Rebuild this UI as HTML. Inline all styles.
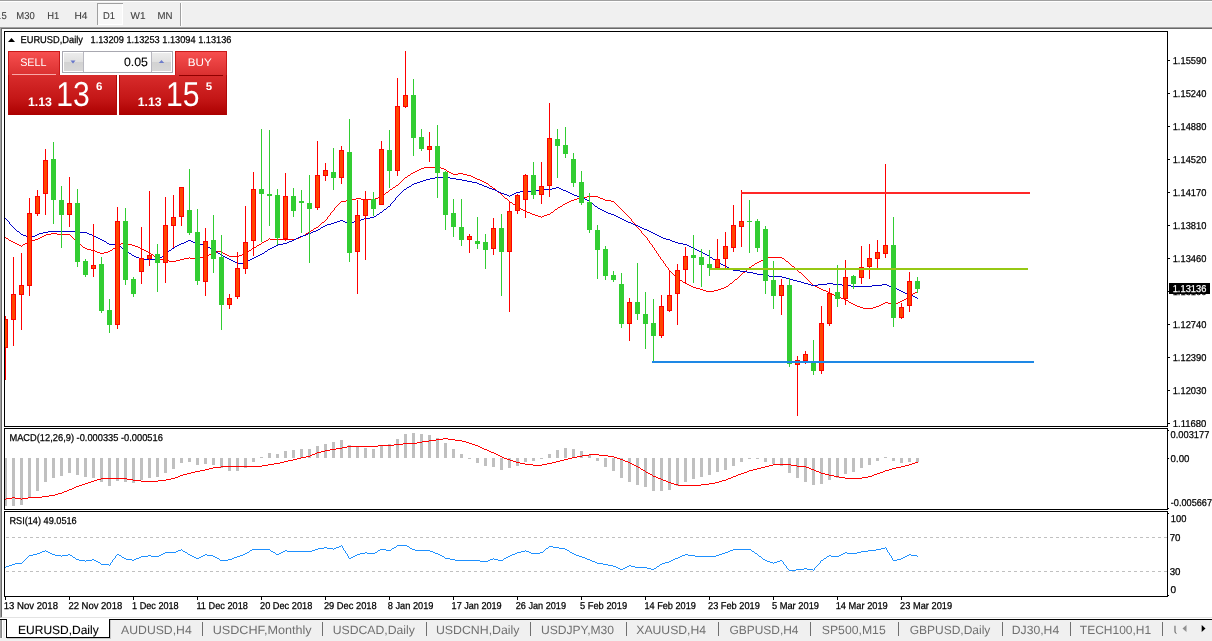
<!DOCTYPE html>
<html><head><meta charset="utf-8"><title>EURUSD,Daily</title>
<style>html,body{margin:0;padding:0;background:#f0f0f0;overflow:hidden}svg{display:block}text{font-family:"Liberation Sans",sans-serif;white-space:pre}</style>
</head><body>
<svg text-rendering="geometricPrecision" width="1212" height="641" viewBox="0 0 1212 641">
<rect x="0" y="0" width="1212" height="641" fill="#f0f0f0" />
<rect x="0" y="0" width="1212" height="1" fill="#a0a0a0" />
<rect x="0" y="1" width="1212" height="1" fill="#ffffff" />
<rect x="97" y="3" width="26" height="22" fill="#f8f8f8" />
<rect x="97" y="3" width="26" height="1" fill="#a0a0a0" />
<rect x="97" y="3" width="1" height="22" fill="#a0a0a0" />
<rect x="98" y="24" width="25" height="1" fill="#ffffff" />
<rect x="122" y="4" width="1" height="21" fill="#ffffff" />
<rect x="180" y="3" width="1" height="23" fill="#a0a0a0" />
<rect x="181" y="3" width="1" height="23" fill="#ffffff" />
<text x="1.5" y="19" font-size="9.97" fill="#404040" textLength="5.3" lengthAdjust="spacingAndGlyphs" stroke="#404040" stroke-width="0.1" >5</text>
<text x="16.3" y="19" font-size="9.97" fill="#404040" textLength="18.4" lengthAdjust="spacingAndGlyphs" stroke="#404040" stroke-width="0.1" >M30</text>
<text x="47.3" y="19" font-size="9.97" fill="#404040" textLength="12.0" lengthAdjust="spacingAndGlyphs" stroke="#404040" stroke-width="0.1" >H1</text>
<text x="74.5" y="19" font-size="9.97" fill="#404040" textLength="13.0" lengthAdjust="spacingAndGlyphs" stroke="#404040" stroke-width="0.1" >H4</text>
<text x="103.1" y="19" font-size="9.97" fill="#404040" textLength="12.0" lengthAdjust="spacingAndGlyphs" stroke="#404040" stroke-width="0.1" >D1</text>
<text x="130.5" y="19" font-size="9.97" fill="#404040" textLength="15.0" lengthAdjust="spacingAndGlyphs" stroke="#404040" stroke-width="0.1" >W1</text>
<text x="157.5" y="19" font-size="9.97" fill="#404040" textLength="15.0" lengthAdjust="spacingAndGlyphs" stroke="#404040" stroke-width="0.1" >MN</text>
<text x="-4.3" y="19" font-size="9.97" fill="#404040" textLength="5.3" lengthAdjust="spacingAndGlyphs" stroke="#404040" stroke-width="0.1" >1</text>
<rect x="0" y="27" width="1212" height="590" fill="#ffffff" />
<rect x="0" y="27" width="1212" height="1" fill="#a0a0a0" />
<rect x="0" y="28" width="1212" height="1" fill="#696969" />
<rect x="0" y="27" width="1" height="590" fill="#a0a0a0" />
<rect x="1" y="28" width="1" height="589" fill="#696969" />
<rect x="0" y="617" width="1212" height="1" fill="#e3e3e3" />
<rect x="4" y="31" width="1164" height="1" fill="#000" />
<rect x="4" y="426" width="1164" height="1" fill="#000" />
<rect x="4" y="31" width="1" height="396" fill="#000" />
<rect x="1167" y="31" width="1" height="396" fill="#000" />
<rect x="4" y="428" width="1164" height="1" fill="#000" />
<rect x="4" y="509" width="1164" height="1" fill="#000" />
<rect x="4" y="428" width="1" height="82" fill="#000" />
<rect x="1167" y="428" width="1" height="82" fill="#000" />
<rect x="4" y="511" width="1164" height="1" fill="#000" />
<rect x="4" y="596" width="1164" height="1" fill="#000" />
<rect x="4" y="511" width="1" height="86" fill="#000" />
<rect x="1167" y="511" width="1" height="86" fill="#000" />
<path d="M5 237h1v1h-1zM6 238h1v1h-1zM7 238h1v1h-1zM8 239h1v1h-1zM9 240h1v1h-1zM10 240h1v1h-1zM11 241h1v1h-1zM12 241h1v1h-1zM13 242h1v1h-1zM14 242h1v1h-1zM15 243h1v1h-1zM16 243h1v1h-1zM17 244h1v1h-1zM18 244h1v1h-1zM19 245h1v1h-1zM20 245h1v1h-1zM21 246h1v1h-1zM22 245h1v1h-1zM23 244h1v1h-1zM24 244h1v1h-1zM25 243h1v1h-1zM26 243h1v1h-1zM27 242h1v1h-1zM28 242h1v1h-1zM29 241h1v1h-1zM30 241h1v1h-1zM31 240h1v1h-1zM32 240h1v1h-1zM33 240h1v1h-1zM34 240h1v1h-1zM35 239h1v1h-1zM36 239h1v1h-1zM37 239h1v1h-1zM38 238h1v1h-1zM39 238h1v1h-1zM40 237h1v1h-1zM41 237h1v1h-1zM42 236h1v1h-1zM43 236h1v1h-1zM44 235h1v1h-1zM45 235h1v1h-1zM46 234h1v1h-1zM47 234h1v1h-1zM48 234h1v1h-1zM49 234h1v1h-1zM50 234h1v1h-1zM51 233h1v1h-1zM52 233h1v1h-1zM53 233h1v1h-1zM54 233h1v1h-1zM55 233h1v1h-1zM56 233h1v1h-1zM57 234h1v1h-1zM58 234h1v1h-1zM59 234h1v1h-1zM60 234h1v1h-1zM61 234h1v1h-1zM62 234h1v1h-1zM63 234h1v1h-1zM64 234h1v1h-1zM65 234h1v1h-1zM66 234h1v1h-1zM67 234h1v1h-1zM68 234h1v1h-1zM69 234h1v1h-1zM70 235h1v1h-1zM71 236h1v1h-1zM72 237h1v1h-1zM73 238h1v1h-1zM74 239h1v1h-1zM75 240h1v1h-1zM76 241h1v1h-1zM77 242h1v1h-1zM78 243h1v1h-1zM79 244h1v1h-1zM80 244h1v1h-1zM81 245h1v1h-1zM82 246h1v1h-1zM83 247h1v1h-1zM84 247h1v1h-1zM85 248h1v1h-1zM86 248h1v1h-1zM87 249h1v1h-1zM88 249h1v1h-1zM89 249h1v1h-1zM90 249h1v1h-1zM91 250h1v1h-1zM92 250h1v1h-1zM93 250h1v1h-1zM94 250h1v1h-1zM95 251h1v1h-1zM96 251h1v1h-1zM97 252h1v1h-1zM98 252h1v1h-1zM99 252h1v1h-1zM100 253h1v1h-1zM101 253h1v1h-1zM102 253h1v1h-1zM103 253h1v1h-1zM104 252h1v1h-1zM105 252h1v1h-1zM106 252h1v1h-1zM107 252h1v1h-1zM108 251h1v1h-1zM109 251h1v1h-1zM110 250h1v1h-1zM111 250h1v1h-1zM112 249h1v1h-1zM113 248h1v1h-1zM114 248h1v1h-1zM115 247h1v1h-1zM116 246h1v1h-1zM117 246h1v1h-1zM118 245h1v1h-1zM119 244h1v1h-1zM120 244h1v1h-1zM121 243h1v1h-1zM122 243h1v1h-1zM123 243h1v1h-1zM124 243h1v1h-1zM125 244h1v1h-1zM126 244h1v1h-1zM127 244h1v1h-1zM128 244h1v1h-1zM129 244h1v1h-1zM130 244h1v1h-1zM131 244h1v1h-1zM132 245h1v1h-1zM133 245h1v1h-1zM134 245h1v1h-1zM135 246h1v1h-1zM136 246h1v1h-1zM137 246h1v1h-1zM138 247h1v1h-1zM139 247h1v1h-1zM140 248h1v1h-1zM141 248h1v1h-1zM142 249h1v1h-1zM143 249h1v1h-1zM144 250h1v1h-1zM145 250h1v1h-1zM146 251h1v1h-1zM147 251h1v1h-1zM148 252h1v1h-1zM149 252h1v1h-1zM150 253h1v1h-1zM151 254h1v1h-1zM152 254h1v1h-1zM153 255h1v1h-1zM154 256h1v1h-1zM155 257h1v1h-1zM156 257h1v1h-1zM157 258h1v1h-1zM158 258h1v1h-1zM159 259h1v1h-1zM160 259h1v1h-1zM161 259h1v1h-1zM162 259h1v1h-1zM163 260h1v1h-1zM164 260h1v1h-1zM165 260h1v1h-1zM166 260h1v1h-1zM167 260h1v1h-1zM168 260h1v1h-1zM169 261h1v1h-1zM170 261h1v1h-1zM171 261h1v1h-1zM172 261h1v1h-1zM173 261h1v1h-1zM174 261h1v1h-1zM175 261h1v1h-1zM176 260h1v1h-1zM177 260h1v1h-1zM178 260h1v1h-1zM179 260h1v1h-1zM180 259h1v1h-1zM181 259h1v1h-1zM182 259h1v1h-1zM183 259h1v1h-1zM184 258h1v1h-1zM185 258h1v1h-1zM186 258h1v1h-1zM187 258h1v1h-1zM188 258h1v1h-1zM189 257h1v1h-1zM190 258h1v1h-1zM191 258h1v1h-1zM192 258h1v1h-1zM193 258h1v1h-1zM194 258h1v1h-1zM195 258h1v1h-1zM196 258h1v1h-1zM197 258h1v1h-1zM198 258h1v1h-1zM199 258h1v1h-1zM200 257h1v1h-1zM201 257h1v1h-1zM202 257h1v1h-1zM203 257h1v1h-1zM204 256h1v1h-1zM205 256h1v1h-1zM206 256h1v1h-1zM207 255h1v1h-1zM208 255h1v1h-1zM209 254h1v1h-1zM210 254h1v1h-1zM211 254h1v1h-1zM212 253h1v1h-1zM213 253h1v1h-1zM214 253h1v1h-1zM215 252h1v1h-1zM216 252h1v1h-1zM217 251h1v1h-1zM218 251h1v1h-1zM219 251h1v1h-1zM220 251h1v1h-1zM221 252h1v1h-1zM222 252h1v1h-1zM223 253h1v1h-1zM224 253h1v1h-1zM225 254h1v1h-1zM226 254h1v1h-1zM227 255h1v1h-1zM228 255h1v1h-1zM229 256h1v1h-1zM230 256h1v1h-1zM231 256h1v1h-1zM232 256h1v1h-1zM233 256h1v1h-1zM234 256h1v1h-1zM235 256h1v1h-1zM236 256h1v1h-1zM237 256h1v1h-1zM238 256h1v1h-1zM239 255h1v1h-1zM240 255h1v1h-1zM241 255h1v1h-1zM242 254h1v1h-1zM243 254h1v1h-1zM244 253h1v1h-1zM245 253h1v1h-1zM246 252h1v1h-1zM247 251h1v1h-1zM248 251h1v1h-1zM249 250h1v1h-1zM250 250h1v1h-1zM251 249h1v1h-1zM252 248h1v1h-1zM253 248h1v1h-1zM254 247h1v1h-1zM255 247h1v1h-1zM256 246h1v1h-1zM257 245h1v1h-1zM258 245h1v1h-1zM259 244h1v1h-1zM260 244h1v1h-1zM261 243h1v1h-1zM262 242h1v1h-1zM263 242h1v1h-1zM264 241h1v1h-1zM265 241h1v1h-1zM266 240h1v1h-1zM267 240h1v1h-1zM268 239h1v1h-1zM269 238h1v1h-1zM270 239h1v1h-1zM271 239h1v1h-1zM272 239h1v1h-1zM273 239h1v1h-1zM274 239h1v1h-1zM275 239h1v1h-1zM276 239h1v1h-1zM277 239h1v1h-1zM278 239h1v1h-1zM279 239h1v1h-1zM280 239h1v1h-1zM281 239h1v1h-1zM282 239h1v1h-1zM283 239h1v1h-1zM284 239h1v1h-1zM285 239h1v1h-1zM286 239h1v1h-1zM287 239h1v1h-1zM288 239h1v1h-1zM289 239h1v1h-1zM290 239h1v1h-1zM291 239h1v1h-1zM292 239h1v1h-1zM293 239h1v1h-1zM294 239h1v1h-1zM295 239h1v1h-1zM296 238h1v1h-1zM297 238h1v1h-1zM298 238h1v1h-1zM299 237h1v1h-1zM300 237h1v1h-1zM301 236h1v1h-1zM302 236h1v1h-1zM303 235h1v1h-1zM304 235h1v1h-1zM305 234h1v1h-1zM306 233h1v1h-1zM307 233h1v1h-1zM308 232h1v1h-1zM309 232h1v1h-1zM310 231h1v1h-1zM311 230h1v1h-1zM312 230h1v1h-1zM313 229h1v1h-1zM314 228h1v1h-1zM315 228h1v1h-1zM316 227h1v1h-1zM317 227h1v1h-1zM318 226h1v1h-1zM319 225h1v1h-1zM320 224h1v1h-1zM321 223h1v1h-1zM322 222h1v1h-1zM323 222h1v1h-1zM324 221h1v1h-1zM325 220h1v1h-1zM326 219h1v1h-1zM327 217h1v2h-1zM328 216h1v1h-1zM329 215h1v1h-1zM330 213h1v2h-1zM331 212h1v1h-1zM332 211h1v1h-1zM333 210h1v1h-1zM334 208h1v2h-1zM335 207h1v1h-1zM336 206h1v1h-1zM337 205h1v1h-1zM338 204h1v1h-1zM339 203h1v1h-1zM340 202h1v1h-1zM341 201h1v1h-1zM342 201h1v1h-1zM343 201h1v1h-1zM344 201h1v1h-1zM345 201h1v1h-1zM346 200h1v1h-1zM347 200h1v1h-1zM348 200h1v1h-1zM349 200h1v1h-1zM350 200h1v1h-1zM351 200h1v1h-1zM352 199h1v1h-1zM353 199h1v1h-1zM354 199h1v1h-1zM355 199h1v1h-1zM356 198h1v1h-1zM357 198h1v1h-1zM358 198h1v1h-1zM359 198h1v1h-1zM360 198h1v1h-1zM361 199h1v1h-1zM362 199h1v1h-1zM363 199h1v1h-1zM364 199h1v1h-1zM365 199h1v1h-1zM366 199h1v1h-1zM367 199h1v1h-1zM368 199h1v1h-1zM369 199h1v1h-1zM370 199h1v1h-1zM371 199h1v1h-1zM372 199h1v1h-1zM373 199h1v1h-1zM374 199h1v1h-1zM375 198h1v1h-1zM376 198h1v1h-1zM377 198h1v1h-1zM378 197h1v1h-1zM379 197h1v1h-1zM380 196h1v1h-1zM381 196h1v1h-1zM382 195h1v1h-1zM383 195h1v1h-1zM384 194h1v1h-1zM385 193h1v1h-1zM386 192h1v1h-1zM387 192h1v1h-1zM388 191h1v1h-1zM389 190h1v1h-1zM390 189h1v1h-1zM391 189h1v1h-1zM392 188h1v1h-1zM393 187h1v1h-1zM394 187h1v1h-1zM395 186h1v1h-1zM396 185h1v1h-1zM397 185h1v1h-1zM398 184h1v1h-1zM399 183h1v1h-1zM400 182h1v1h-1zM401 181h1v1h-1zM402 180h1v1h-1zM403 179h1v1h-1zM404 178h1v1h-1zM405 177h1v1h-1zM406 177h1v1h-1zM407 176h1v1h-1zM408 175h1v1h-1zM409 175h1v1h-1zM410 174h1v1h-1zM411 173h1v1h-1zM412 173h1v1h-1zM413 172h1v1h-1zM414 172h1v1h-1zM415 171h1v1h-1zM416 171h1v1h-1zM417 170h1v1h-1zM418 170h1v1h-1zM419 169h1v1h-1zM420 169h1v1h-1zM421 168h1v1h-1zM422 168h1v1h-1zM423 168h1v1h-1zM424 167h1v1h-1zM425 167h1v1h-1zM426 167h1v1h-1zM427 167h1v1h-1zM428 167h1v1h-1zM429 167h1v1h-1zM430 167h1v1h-1zM431 167h1v1h-1zM432 167h1v1h-1zM433 167h1v1h-1zM434 167h1v1h-1zM435 167h1v1h-1zM436 167h1v1h-1zM437 167h1v1h-1zM438 167h1v1h-1zM439 167h1v1h-1zM440 167h1v1h-1zM441 168h1v1h-1zM442 168h1v1h-1zM443 168h1v1h-1zM444 169h1v1h-1zM445 169h1v1h-1zM446 170h1v1h-1zM447 171h1v1h-1zM448 171h1v1h-1zM449 172h1v1h-1zM450 172h1v1h-1zM451 173h1v1h-1zM452 173h1v1h-1zM453 174h1v1h-1zM454 174h1v1h-1zM455 174h1v1h-1zM456 174h1v1h-1zM457 174h1v1h-1zM458 173h1v1h-1zM459 173h1v1h-1zM460 173h1v1h-1zM461 173h1v1h-1zM462 173h1v1h-1zM463 174h1v1h-1zM464 174h1v1h-1zM465 174h1v1h-1zM466 174h1v1h-1zM467 175h1v1h-1zM468 175h1v1h-1zM469 175h1v1h-1zM470 175h1v1h-1zM471 176h1v1h-1zM472 176h1v1h-1zM473 177h1v1h-1zM474 177h1v1h-1zM475 178h1v1h-1zM476 178h1v1h-1zM477 179h1v1h-1zM478 179h1v1h-1zM479 179h1v1h-1zM480 180h1v1h-1zM481 180h1v1h-1zM482 181h1v1h-1zM483 181h1v1h-1zM484 182h1v1h-1zM485 182h1v1h-1zM486 183h1v1h-1zM487 183h1v1h-1zM488 184h1v1h-1zM489 185h1v1h-1zM490 186h1v1h-1zM491 186h1v1h-1zM492 187h1v1h-1zM493 188h1v1h-1zM494 188h1v1h-1zM495 189h1v1h-1zM496 190h1v1h-1zM497 191h1v1h-1zM498 192h1v1h-1zM499 192h1v1h-1zM500 193h1v1h-1zM501 194h1v1h-1zM502 195h1v1h-1zM503 196h1v1h-1zM504 197h1v1h-1zM505 198h1v1h-1zM506 198h1v1h-1zM507 199h1v1h-1zM508 200h1v1h-1zM509 201h1v1h-1zM510 202h1v1h-1zM511 202h1v1h-1zM512 203h1v1h-1zM513 204h1v1h-1zM514 204h1v1h-1zM515 205h1v1h-1zM516 206h1v1h-1zM517 207h1v1h-1zM518 207h1v1h-1zM519 208h1v1h-1zM520 208h1v1h-1zM521 209h1v1h-1zM522 209h1v1h-1zM523 210h1v1h-1zM524 210h1v1h-1zM525 211h1v1h-1zM526 211h1v1h-1zM527 212h1v1h-1zM528 212h1v1h-1zM529 212h1v1h-1zM530 213h1v1h-1zM531 213h1v1h-1zM532 214h1v1h-1zM533 214h1v1h-1zM534 214h1v1h-1zM535 215h1v1h-1zM536 215h1v1h-1zM537 215h1v1h-1zM538 216h1v1h-1zM539 216h1v1h-1zM540 216h1v1h-1zM541 217h1v1h-1zM542 216h1v1h-1zM543 216h1v1h-1zM544 215h1v1h-1zM545 215h1v1h-1zM546 215h1v1h-1zM547 214h1v1h-1zM548 214h1v1h-1zM549 214h1v1h-1zM550 213h1v1h-1zM551 212h1v1h-1zM552 212h1v1h-1zM553 211h1v1h-1zM554 210h1v1h-1zM555 209h1v1h-1zM556 209h1v1h-1zM557 208h1v1h-1zM558 207h1v1h-1zM559 207h1v1h-1zM560 206h1v1h-1zM561 206h1v1h-1zM562 205h1v1h-1zM563 204h1v1h-1zM564 204h1v1h-1zM565 203h1v1h-1zM566 203h1v1h-1zM567 202h1v1h-1zM568 202h1v1h-1zM569 201h1v1h-1zM570 201h1v1h-1zM571 200h1v1h-1zM572 200h1v1h-1zM573 200h1v1h-1zM574 199h1v1h-1zM575 199h1v1h-1zM576 199h1v1h-1zM577 198h1v1h-1zM578 198h1v1h-1zM579 198h1v1h-1zM580 197h1v1h-1zM581 197h1v1h-1zM582 197h1v1h-1zM583 197h1v1h-1zM584 197h1v1h-1zM585 197h1v1h-1zM586 197h1v1h-1zM587 196h1v1h-1zM588 196h1v1h-1zM589 196h1v1h-1zM590 196h1v1h-1zM591 196h1v1h-1zM592 196h1v1h-1zM593 196h1v1h-1zM594 196h1v1h-1zM595 196h1v1h-1zM596 196h1v1h-1zM597 196h1v1h-1zM598 197h1v1h-1zM599 197h1v1h-1zM600 198h1v1h-1zM601 198h1v1h-1zM602 198h1v1h-1zM603 199h1v1h-1zM604 199h1v1h-1zM605 200h1v1h-1zM606 200h1v1h-1zM607 200h1v1h-1zM608 200h1v1h-1zM609 200h1v1h-1zM610 200h1v1h-1zM611 201h1v1h-1zM612 201h1v1h-1zM613 201h1v1h-1zM614 202h1v1h-1zM615 203h1v1h-1zM616 204h1v1h-1zM617 205h1v1h-1zM618 206h1v1h-1zM619 207h1v1h-1zM620 208h1v1h-1zM621 209h1v1h-1zM622 210h1v1h-1zM623 211h1v1h-1zM624 212h1v1h-1zM625 213h1v1h-1zM626 214h1v1h-1zM627 215h1v1h-1zM628 216h1v1h-1zM629 217h1v1h-1zM630 218h1v1h-1zM631 219h1v2h-1zM632 221h1v1h-1zM633 222h1v1h-1zM634 223h1v1h-1zM635 224h1v2h-1zM636 226h1v1h-1zM637 227h1v1h-1zM638 228h1v1h-1zM639 229h1v1h-1zM640 230h1v1h-1zM641 231h1v2h-1zM642 233h1v1h-1zM643 234h1v1h-1zM644 235h1v1h-1zM645 236h1v1h-1zM646 237h1v1h-1zM647 238h1v2h-1zM648 240h1v1h-1zM649 241h1v2h-1zM650 243h1v1h-1zM651 244h1v1h-1zM652 245h1v2h-1zM653 247h1v1h-1zM654 248h1v2h-1zM655 250h1v1h-1zM656 251h1v2h-1zM657 253h1v1h-1zM658 254h1v2h-1zM659 256h1v1h-1zM660 257h1v2h-1zM661 259h1v1h-1zM662 260h1v1h-1zM663 261h1v2h-1zM664 263h1v1h-1zM665 264h1v2h-1zM666 266h1v1h-1zM667 267h1v1h-1zM668 268h1v2h-1zM669 270h1v1h-1zM670 271h1v1h-1zM671 272h1v1h-1zM672 273h1v1h-1zM673 274h1v1h-1zM674 275h1v1h-1zM675 276h1v1h-1zM676 277h1v1h-1zM677 278h1v1h-1zM678 278h1v1h-1zM679 279h1v1h-1zM680 280h1v1h-1zM681 280h1v1h-1zM682 281h1v1h-1zM683 282h1v1h-1zM684 282h1v1h-1zM685 283h1v1h-1zM686 283h1v1h-1zM687 284h1v1h-1zM688 284h1v1h-1zM689 285h1v1h-1zM690 285h1v1h-1zM691 286h1v1h-1zM692 286h1v1h-1zM693 287h1v1h-1zM694 287h1v1h-1zM695 287h1v1h-1zM696 288h1v1h-1zM697 288h1v1h-1zM698 288h1v1h-1zM699 288h1v1h-1zM700 289h1v1h-1zM701 289h1v1h-1zM702 289h1v1h-1zM703 290h1v1h-1zM704 290h1v1h-1zM705 290h1v1h-1zM706 291h1v1h-1zM707 291h1v1h-1zM708 291h1v1h-1zM709 291h1v1h-1zM710 291h1v1h-1zM711 291h1v1h-1zM712 291h1v1h-1zM713 291h1v1h-1zM714 290h1v1h-1zM715 290h1v1h-1zM716 290h1v1h-1zM717 290h1v1h-1zM718 289h1v1h-1zM719 289h1v1h-1zM720 289h1v1h-1zM721 288h1v1h-1zM722 288h1v1h-1zM723 288h1v1h-1zM724 287h1v1h-1zM725 287h1v1h-1zM726 286h1v1h-1zM727 286h1v1h-1zM728 285h1v1h-1zM729 284h1v1h-1zM730 283h1v1h-1zM731 283h1v1h-1zM732 282h1v1h-1zM733 281h1v1h-1zM734 280h1v1h-1zM735 279h1v1h-1zM736 279h1v1h-1zM737 278h1v1h-1zM738 277h1v1h-1zM739 276h1v1h-1zM740 275h1v1h-1zM741 274h1v1h-1zM742 273h1v1h-1zM743 272h1v1h-1zM744 272h1v1h-1zM745 271h1v1h-1zM746 270h1v1h-1zM747 269h1v1h-1zM748 268h1v1h-1zM749 267h1v1h-1zM750 267h1v1h-1zM751 266h1v1h-1zM752 265h1v1h-1zM753 265h1v1h-1zM754 264h1v1h-1zM755 263h1v1h-1zM756 263h1v1h-1zM757 262h1v1h-1zM758 262h1v1h-1zM759 261h1v1h-1zM760 261h1v1h-1zM761 260h1v1h-1zM762 260h1v1h-1zM763 259h1v1h-1zM764 259h1v1h-1zM765 259h1v1h-1zM766 258h1v1h-1zM767 258h1v1h-1zM768 257h1v1h-1zM769 257h1v1h-1zM770 257h1v1h-1zM771 257h1v1h-1zM772 257h1v1h-1zM773 257h1v1h-1zM774 257h1v1h-1zM775 257h1v1h-1zM776 257h1v1h-1zM777 257h1v1h-1zM778 257h1v1h-1zM779 257h1v1h-1zM780 257h1v1h-1zM781 257h1v1h-1zM782 258h1v1h-1zM783 258h1v1h-1zM784 259h1v1h-1zM785 260h1v1h-1zM786 261h1v1h-1zM787 261h1v1h-1zM788 262h1v1h-1zM789 263h1v1h-1zM790 264h1v1h-1zM791 265h1v1h-1zM792 266h1v1h-1zM793 266h1v1h-1zM794 267h1v1h-1zM795 268h1v1h-1zM796 269h1v1h-1zM797 270h1v1h-1zM798 271h1v1h-1zM799 272h1v1h-1zM800 272h1v1h-1zM801 273h1v1h-1zM802 274h1v1h-1zM803 275h1v1h-1zM804 276h1v1h-1zM805 277h1v1h-1zM806 278h1v1h-1zM807 279h1v1h-1zM808 280h1v1h-1zM809 281h1v1h-1zM810 282h1v1h-1zM811 283h1v1h-1zM812 284h1v1h-1zM813 285h1v1h-1zM814 285h1v1h-1zM815 286h1v1h-1zM816 286h1v1h-1zM817 287h1v1h-1zM818 287h1v1h-1zM819 288h1v1h-1zM820 288h1v1h-1zM821 289h1v1h-1zM822 289h1v1h-1zM823 290h1v1h-1zM824 290h1v1h-1zM825 290h1v1h-1zM826 291h1v1h-1zM827 291h1v1h-1zM828 292h1v1h-1zM829 292h1v1h-1zM830 293h1v1h-1zM831 293h1v1h-1zM832 294h1v1h-1zM833 294h1v1h-1zM834 295h1v1h-1zM835 295h1v1h-1zM836 296h1v1h-1zM837 296h1v1h-1zM838 296h1v1h-1zM839 297h1v1h-1zM840 297h1v1h-1zM841 298h1v1h-1zM842 298h1v1h-1zM843 298h1v1h-1zM844 299h1v1h-1zM845 299h1v1h-1zM846 300h1v1h-1zM847 300h1v1h-1zM848 301h1v1h-1zM849 302h1v1h-1zM850 302h1v1h-1zM851 303h1v1h-1zM852 303h1v1h-1zM853 304h1v1h-1zM854 304h1v1h-1zM855 305h1v1h-1zM856 305h1v1h-1zM857 306h1v1h-1zM858 306h1v1h-1zM859 306h1v1h-1zM860 307h1v1h-1zM861 307h1v1h-1zM862 307h1v1h-1zM863 308h1v1h-1zM864 308h1v1h-1zM865 308h1v1h-1zM866 308h1v1h-1zM867 308h1v1h-1zM868 308h1v1h-1zM869 308h1v1h-1zM870 308h1v1h-1zM871 308h1v1h-1zM872 308h1v1h-1zM873 307h1v1h-1zM874 307h1v1h-1zM875 307h1v1h-1zM876 306h1v1h-1zM877 306h1v1h-1zM878 306h1v1h-1zM879 305h1v1h-1zM880 305h1v1h-1zM881 304h1v1h-1zM882 304h1v1h-1zM883 303h1v1h-1zM884 303h1v1h-1zM885 302h1v1h-1zM886 302h1v1h-1zM887 302h1v1h-1zM888 303h1v1h-1zM889 303h1v1h-1zM890 303h1v1h-1zM891 303h1v1h-1zM892 303h1v1h-1zM893 304h1v1h-1zM894 303h1v1h-1zM895 303h1v1h-1zM896 303h1v1h-1zM897 303h1v1h-1zM898 302h1v1h-1zM899 302h1v1h-1zM900 301h1v1h-1zM901 301h1v1h-1zM902 300h1v1h-1zM903 300h1v1h-1zM904 299h1v1h-1zM905 299h1v1h-1zM906 298h1v1h-1zM907 297h1v1h-1zM908 296h1v1h-1zM909 295h1v1h-1zM910 295h1v1h-1zM911 294h1v1h-1zM912 294h1v1h-1zM913 293h1v1h-1zM914 293h1v1h-1zM915 292h1v1h-1zM916 292h1v1h-1zM917 291h1v1h-1z" fill="#ff0000" shape-rendering="crispEdges"/>
<path d="M5 218h1v1h-1zM6 219h1v1h-1zM7 220h1v1h-1zM8 221h1v1h-1zM9 222h1v2h-1zM10 224h1v1h-1zM11 225h1v1h-1zM12 226h1v1h-1zM13 227h1v1h-1zM14 228h1v1h-1zM15 229h1v1h-1zM16 230h1v1h-1zM17 231h1v1h-1zM18 231h1v1h-1zM19 232h1v1h-1zM20 233h1v1h-1zM21 234h1v1h-1zM22 234h1v1h-1zM23 235h1v1h-1zM24 235h1v1h-1zM25 235h1v1h-1zM26 236h1v1h-1zM27 236h1v1h-1zM28 236h1v1h-1zM29 236h1v1h-1zM30 236h1v1h-1zM31 236h1v1h-1zM32 236h1v1h-1zM33 236h1v1h-1zM34 236h1v1h-1zM35 235h1v1h-1zM36 235h1v1h-1zM37 234h1v1h-1zM38 234h1v1h-1zM39 233h1v1h-1zM40 233h1v1h-1zM41 233h1v1h-1zM42 233h1v1h-1zM43 232h1v1h-1zM44 232h1v1h-1zM45 232h1v1h-1zM46 232h1v1h-1zM47 232h1v1h-1zM48 231h1v1h-1zM49 231h1v1h-1zM50 231h1v1h-1zM51 231h1v1h-1zM52 231h1v1h-1zM53 231h1v1h-1zM54 231h1v1h-1zM55 231h1v1h-1zM56 231h1v1h-1zM57 231h1v1h-1zM58 231h1v1h-1zM59 231h1v1h-1zM60 231h1v1h-1zM61 231h1v1h-1zM62 231h1v1h-1zM63 231h1v1h-1zM64 231h1v1h-1zM65 231h1v1h-1zM66 231h1v1h-1zM67 231h1v1h-1zM68 231h1v1h-1zM69 231h1v1h-1zM70 231h1v1h-1zM71 231h1v1h-1zM72 231h1v1h-1zM73 231h1v1h-1zM74 231h1v1h-1zM75 231h1v1h-1zM76 231h1v1h-1zM77 231h1v1h-1zM78 232h1v1h-1zM79 232h1v1h-1zM80 232h1v1h-1zM81 232h1v1h-1zM82 232h1v1h-1zM83 232h1v1h-1zM84 232h1v1h-1zM85 232h1v1h-1zM86 232h1v1h-1zM87 233h1v1h-1zM88 233h1v1h-1zM89 234h1v1h-1zM90 234h1v1h-1zM91 234h1v1h-1zM92 235h1v1h-1zM93 235h1v1h-1zM94 236h1v1h-1zM95 236h1v1h-1zM96 237h1v1h-1zM97 237h1v1h-1zM98 238h1v1h-1zM99 238h1v1h-1zM100 239h1v1h-1zM101 239h1v1h-1zM102 240h1v1h-1zM103 240h1v1h-1zM104 241h1v1h-1zM105 241h1v1h-1zM106 242h1v1h-1zM107 243h1v1h-1zM108 243h1v1h-1zM109 244h1v1h-1zM110 244h1v1h-1zM111 244h1v1h-1zM112 244h1v1h-1zM113 244h1v1h-1zM114 244h1v1h-1zM115 244h1v1h-1zM116 245h1v1h-1zM117 245h1v1h-1zM118 245h1v1h-1zM119 246h1v1h-1zM120 246h1v1h-1zM121 247h1v1h-1zM122 248h1v1h-1zM123 248h1v1h-1zM124 249h1v1h-1zM125 250h1v1h-1zM126 250h1v1h-1zM127 251h1v1h-1zM128 252h1v1h-1zM129 253h1v1h-1zM130 253h1v1h-1zM131 254h1v1h-1zM132 255h1v1h-1zM133 255h1v1h-1zM134 256h1v1h-1zM135 256h1v1h-1zM136 257h1v1h-1zM137 257h1v1h-1zM138 257h1v1h-1zM139 258h1v1h-1zM140 258h1v1h-1zM141 259h1v1h-1zM142 259h1v1h-1zM143 259h1v1h-1zM144 259h1v1h-1zM145 259h1v1h-1zM146 259h1v1h-1zM147 259h1v1h-1zM148 259h1v1h-1zM149 259h1v1h-1zM150 259h1v1h-1zM151 259h1v1h-1zM152 259h1v1h-1zM153 259h1v1h-1zM154 259h1v1h-1zM155 259h1v1h-1zM156 259h1v1h-1zM157 259h1v1h-1zM158 258h1v1h-1zM159 258h1v1h-1zM160 257h1v1h-1zM161 257h1v1h-1zM162 256h1v1h-1zM163 255h1v1h-1zM164 254h1v1h-1zM165 254h1v1h-1zM166 253h1v1h-1zM167 252h1v1h-1zM168 251h1v1h-1zM169 250h1v1h-1zM170 250h1v1h-1zM171 249h1v1h-1zM172 248h1v1h-1zM173 248h1v1h-1zM174 247h1v1h-1zM175 246h1v1h-1zM176 246h1v1h-1zM177 245h1v1h-1zM178 245h1v1h-1zM179 244h1v1h-1zM180 244h1v1h-1zM181 243h1v1h-1zM182 243h1v1h-1zM183 243h1v1h-1zM184 242h1v1h-1zM185 242h1v1h-1zM186 241h1v1h-1zM187 241h1v1h-1zM188 240h1v1h-1zM189 240h1v1h-1zM190 240h1v1h-1zM191 241h1v1h-1zM192 241h1v1h-1zM193 242h1v1h-1zM194 242h1v1h-1zM195 242h1v1h-1zM196 243h1v1h-1zM197 243h1v1h-1zM198 243h1v1h-1zM199 244h1v1h-1zM200 244h1v1h-1zM201 244h1v1h-1zM202 244h1v1h-1zM203 245h1v1h-1zM204 245h1v1h-1zM205 245h1v1h-1zM206 246h1v1h-1zM207 246h1v1h-1zM208 247h1v1h-1zM209 247h1v1h-1zM210 248h1v1h-1zM211 248h1v1h-1zM212 249h1v1h-1zM213 249h1v1h-1zM214 250h1v1h-1zM215 250h1v1h-1zM216 251h1v1h-1zM217 252h1v1h-1zM218 253h1v1h-1zM219 253h1v1h-1zM220 254h1v1h-1zM221 255h1v1h-1zM222 255h1v1h-1zM223 256h1v1h-1zM224 256h1v1h-1zM225 257h1v1h-1zM226 257h1v1h-1zM227 258h1v1h-1zM228 258h1v1h-1zM229 259h1v1h-1zM230 259h1v1h-1zM231 260h1v1h-1zM232 260h1v1h-1zM233 261h1v1h-1zM234 261h1v1h-1zM235 262h1v1h-1zM236 262h1v1h-1zM237 263h1v1h-1zM238 263h1v1h-1zM239 263h1v1h-1zM240 263h1v1h-1zM241 263h1v1h-1zM242 263h1v1h-1zM243 263h1v1h-1zM244 262h1v1h-1zM245 262h1v1h-1zM246 261h1v1h-1zM247 261h1v1h-1zM248 260h1v1h-1zM249 260h1v1h-1zM250 259h1v1h-1zM251 259h1v1h-1zM252 258h1v1h-1zM253 258h1v1h-1zM254 257h1v1h-1zM255 257h1v1h-1zM256 256h1v1h-1zM257 256h1v1h-1zM258 255h1v1h-1zM259 255h1v1h-1zM260 254h1v1h-1zM261 254h1v1h-1zM262 253h1v1h-1zM263 253h1v1h-1zM264 252h1v1h-1zM265 251h1v1h-1zM266 251h1v1h-1zM267 250h1v1h-1zM268 249h1v1h-1zM269 249h1v1h-1zM270 248h1v1h-1zM271 248h1v1h-1zM272 247h1v1h-1zM273 247h1v1h-1zM274 246h1v1h-1zM275 246h1v1h-1zM276 245h1v1h-1zM277 245h1v1h-1zM278 244h1v1h-1zM279 244h1v1h-1zM280 244h1v1h-1zM281 244h1v1h-1zM282 244h1v1h-1zM283 243h1v1h-1zM284 243h1v1h-1zM285 243h1v1h-1zM286 243h1v1h-1zM287 242h1v1h-1zM288 242h1v1h-1zM289 241h1v1h-1zM290 241h1v1h-1zM291 241h1v1h-1zM292 240h1v1h-1zM293 240h1v1h-1zM294 239h1v1h-1zM295 239h1v1h-1zM296 238h1v1h-1zM297 238h1v1h-1zM298 237h1v1h-1zM299 237h1v1h-1zM300 236h1v1h-1zM301 236h1v1h-1zM302 236h1v1h-1zM303 235h1v1h-1zM304 235h1v1h-1zM305 235h1v1h-1zM306 234h1v1h-1zM307 234h1v1h-1zM308 233h1v1h-1zM309 233h1v1h-1zM310 233h1v1h-1zM311 232h1v1h-1zM312 232h1v1h-1zM313 231h1v1h-1zM314 231h1v1h-1zM315 231h1v1h-1zM316 230h1v1h-1zM317 230h1v1h-1zM318 229h1v1h-1zM319 229h1v1h-1zM320 228h1v1h-1zM321 227h1v1h-1zM322 227h1v1h-1zM323 226h1v1h-1zM324 226h1v1h-1zM325 225h1v1h-1zM326 225h1v1h-1zM327 224h1v1h-1zM328 224h1v1h-1zM329 224h1v1h-1zM330 224h1v1h-1zM331 223h1v1h-1zM332 223h1v1h-1zM333 223h1v1h-1zM334 222h1v1h-1zM335 222h1v1h-1zM336 222h1v1h-1zM337 221h1v1h-1zM338 221h1v1h-1zM339 221h1v1h-1zM340 220h1v1h-1zM341 220h1v1h-1zM342 220h1v1h-1zM343 221h1v1h-1zM344 221h1v1h-1zM345 222h1v1h-1zM346 222h1v1h-1zM347 222h1v1h-1zM348 223h1v1h-1zM349 223h1v1h-1zM350 223h1v1h-1zM351 222h1v1h-1zM352 222h1v1h-1zM353 222h1v1h-1zM354 221h1v1h-1zM355 221h1v1h-1zM356 221h1v1h-1zM357 221h1v1h-1zM358 220h1v1h-1zM359 220h1v1h-1zM360 220h1v1h-1zM361 219h1v1h-1zM362 219h1v1h-1zM363 219h1v1h-1zM364 218h1v1h-1zM365 218h1v1h-1zM366 218h1v1h-1zM367 218h1v1h-1zM368 218h1v1h-1zM369 218h1v1h-1zM370 217h1v1h-1zM371 217h1v1h-1zM372 217h1v1h-1zM373 217h1v1h-1zM374 216h1v1h-1zM375 216h1v1h-1zM376 215h1v1h-1zM377 214h1v1h-1zM378 214h1v1h-1zM379 213h1v1h-1zM380 212h1v1h-1zM381 212h1v1h-1zM382 211h1v1h-1zM383 210h1v1h-1zM384 209h1v1h-1zM385 209h1v1h-1zM386 208h1v1h-1zM387 207h1v1h-1zM388 206h1v1h-1zM389 206h1v1h-1zM390 204h1v2h-1zM391 203h1v1h-1zM392 202h1v1h-1zM393 201h1v1h-1zM394 200h1v1h-1zM395 198h1v2h-1zM396 197h1v1h-1zM397 196h1v1h-1zM398 195h1v1h-1zM399 194h1v1h-1zM400 193h1v1h-1zM401 192h1v1h-1zM402 191h1v1h-1zM403 190h1v1h-1zM404 189h1v1h-1zM405 189h1v1h-1zM406 188h1v1h-1zM407 187h1v1h-1zM408 187h1v1h-1zM409 186h1v1h-1zM410 186h1v1h-1zM411 185h1v1h-1zM412 184h1v1h-1zM413 184h1v1h-1zM414 183h1v1h-1zM415 183h1v1h-1zM416 183h1v1h-1zM417 182h1v1h-1zM418 182h1v1h-1zM419 182h1v1h-1zM420 181h1v1h-1zM421 181h1v1h-1zM422 181h1v1h-1zM423 180h1v1h-1zM424 180h1v1h-1zM425 180h1v1h-1zM426 179h1v1h-1zM427 179h1v1h-1zM428 179h1v1h-1zM429 179h1v1h-1zM430 178h1v1h-1zM431 178h1v1h-1zM432 178h1v1h-1zM433 178h1v1h-1zM434 178h1v1h-1zM435 177h1v1h-1zM436 177h1v1h-1zM437 177h1v1h-1zM438 177h1v1h-1zM439 177h1v1h-1zM440 177h1v1h-1zM441 177h1v1h-1zM442 177h1v1h-1zM443 177h1v1h-1zM444 177h1v1h-1zM445 177h1v1h-1zM446 177h1v1h-1zM447 177h1v1h-1zM448 177h1v1h-1zM449 177h1v1h-1zM450 178h1v1h-1zM451 178h1v1h-1zM452 178h1v1h-1zM453 178h1v1h-1zM454 178h1v1h-1zM455 178h1v1h-1zM456 179h1v1h-1zM457 179h1v1h-1zM458 179h1v1h-1zM459 179h1v1h-1zM460 179h1v1h-1zM461 179h1v1h-1zM462 180h1v1h-1zM463 180h1v1h-1zM464 180h1v1h-1zM465 180h1v1h-1zM466 180h1v1h-1zM467 181h1v1h-1zM468 181h1v1h-1zM469 181h1v1h-1zM470 181h1v1h-1zM471 181h1v1h-1zM472 182h1v1h-1zM473 182h1v1h-1zM474 182h1v1h-1zM475 182h1v1h-1zM476 182h1v1h-1zM477 183h1v1h-1zM478 183h1v1h-1zM479 184h1v1h-1zM480 184h1v1h-1zM481 184h1v1h-1zM482 185h1v1h-1zM483 185h1v1h-1zM484 186h1v1h-1zM485 186h1v1h-1zM486 186h1v1h-1zM487 187h1v1h-1zM488 187h1v1h-1zM489 188h1v1h-1zM490 188h1v1h-1zM491 188h1v1h-1zM492 189h1v1h-1zM493 189h1v1h-1zM494 189h1v1h-1zM495 190h1v1h-1zM496 190h1v1h-1zM497 191h1v1h-1zM498 191h1v1h-1zM499 192h1v1h-1zM500 192h1v1h-1zM501 193h1v1h-1zM502 193h1v1h-1zM503 193h1v1h-1zM504 194h1v1h-1zM505 194h1v1h-1zM506 194h1v1h-1zM507 195h1v1h-1zM508 195h1v1h-1zM509 196h1v1h-1zM510 195h1v1h-1zM511 195h1v1h-1zM512 194h1v1h-1zM513 194h1v1h-1zM514 193h1v1h-1zM515 193h1v1h-1zM516 192h1v1h-1zM517 192h1v1h-1zM518 192h1v1h-1zM519 192h1v1h-1zM520 191h1v1h-1zM521 191h1v1h-1zM522 191h1v1h-1zM523 191h1v1h-1zM524 191h1v1h-1zM525 191h1v1h-1zM526 191h1v1h-1zM527 191h1v1h-1zM528 191h1v1h-1zM529 191h1v1h-1zM530 191h1v1h-1zM531 191h1v1h-1zM532 191h1v1h-1zM533 191h1v1h-1zM534 190h1v1h-1zM535 190h1v1h-1zM536 190h1v1h-1zM537 190h1v1h-1zM538 190h1v1h-1zM539 189h1v1h-1zM540 189h1v1h-1zM541 189h1v1h-1zM542 189h1v1h-1zM543 189h1v1h-1zM544 189h1v1h-1zM545 189h1v1h-1zM546 189h1v1h-1zM547 189h1v1h-1zM548 189h1v1h-1zM549 189h1v1h-1zM550 189h1v1h-1zM551 189h1v1h-1zM552 188h1v1h-1zM553 188h1v1h-1zM554 188h1v1h-1zM555 188h1v1h-1zM556 187h1v1h-1zM557 187h1v1h-1zM558 187h1v1h-1zM559 188h1v1h-1zM560 188h1v1h-1zM561 189h1v1h-1zM562 189h1v1h-1zM563 190h1v1h-1zM564 190h1v1h-1zM565 190h1v1h-1zM566 191h1v1h-1zM567 191h1v1h-1zM568 192h1v1h-1zM569 192h1v1h-1zM570 193h1v1h-1zM571 193h1v1h-1zM572 194h1v1h-1zM573 194h1v1h-1zM574 195h1v1h-1zM575 195h1v1h-1zM576 195h1v1h-1zM577 196h1v1h-1zM578 196h1v1h-1zM579 196h1v1h-1zM580 197h1v1h-1zM581 197h1v1h-1zM582 197h1v1h-1zM583 198h1v1h-1zM584 198h1v1h-1zM585 199h1v1h-1zM586 199h1v1h-1zM587 200h1v1h-1zM588 200h1v1h-1zM589 201h1v1h-1zM590 202h1v1h-1zM591 203h1v1h-1zM592 203h1v1h-1zM593 204h1v1h-1zM594 205h1v1h-1zM595 206h1v1h-1zM596 206h1v1h-1zM597 207h1v1h-1zM598 208h1v1h-1zM599 208h1v1h-1zM600 209h1v1h-1zM601 209h1v1h-1zM602 210h1v1h-1zM603 210h1v1h-1zM604 211h1v1h-1zM605 211h1v1h-1zM606 212h1v1h-1zM607 212h1v1h-1zM608 213h1v1h-1zM609 213h1v1h-1zM610 213h1v1h-1zM611 214h1v1h-1zM612 214h1v1h-1zM613 214h1v1h-1zM614 215h1v1h-1zM615 215h1v1h-1zM616 216h1v1h-1zM617 216h1v1h-1zM618 217h1v1h-1zM619 217h1v1h-1zM620 218h1v1h-1zM621 218h1v1h-1zM622 219h1v1h-1zM623 219h1v1h-1zM624 220h1v1h-1zM625 220h1v1h-1zM626 221h1v1h-1zM627 221h1v1h-1zM628 222h1v1h-1zM629 222h1v1h-1zM630 222h1v1h-1zM631 223h1v1h-1zM632 223h1v1h-1zM633 224h1v1h-1zM634 224h1v1h-1zM635 225h1v1h-1zM636 225h1v1h-1zM637 225h1v1h-1zM638 226h1v1h-1zM639 226h1v1h-1zM640 227h1v1h-1zM641 227h1v1h-1zM642 228h1v1h-1zM643 228h1v1h-1zM644 229h1v1h-1zM645 229h1v1h-1zM646 229h1v1h-1zM647 230h1v1h-1zM648 230h1v1h-1zM649 231h1v1h-1zM650 231h1v1h-1zM651 232h1v1h-1zM652 232h1v1h-1zM653 233h1v1h-1zM654 233h1v1h-1zM655 234h1v1h-1zM656 234h1v1h-1zM657 235h1v1h-1zM658 235h1v1h-1zM659 236h1v1h-1zM660 236h1v1h-1zM661 237h1v1h-1zM662 237h1v1h-1zM663 238h1v1h-1zM664 238h1v1h-1zM665 238h1v1h-1zM666 239h1v1h-1zM667 239h1v1h-1zM668 239h1v1h-1zM669 239h1v1h-1zM670 240h1v1h-1zM671 240h1v1h-1zM672 241h1v1h-1zM673 241h1v1h-1zM674 241h1v1h-1zM675 242h1v1h-1zM676 242h1v1h-1zM677 242h1v1h-1zM678 243h1v1h-1zM679 243h1v1h-1zM680 243h1v1h-1zM681 243h1v1h-1zM682 243h1v1h-1zM683 244h1v1h-1zM684 244h1v1h-1zM685 244h1v1h-1zM686 244h1v1h-1zM687 245h1v1h-1zM688 245h1v1h-1zM689 246h1v1h-1zM690 246h1v1h-1zM691 247h1v1h-1zM692 247h1v1h-1zM693 248h1v1h-1zM694 248h1v1h-1zM695 249h1v1h-1zM696 249h1v1h-1zM697 250h1v1h-1zM698 250h1v1h-1zM699 251h1v1h-1zM700 251h1v1h-1zM701 252h1v1h-1zM702 252h1v1h-1zM703 253h1v1h-1zM704 253h1v1h-1zM705 254h1v1h-1zM706 254h1v1h-1zM707 255h1v1h-1zM708 255h1v1h-1zM709 256h1v1h-1zM710 257h1v1h-1zM711 257h1v1h-1zM712 258h1v1h-1zM713 259h1v1h-1zM714 259h1v1h-1zM715 260h1v1h-1zM716 260h1v1h-1zM717 261h1v1h-1zM718 262h1v1h-1zM719 262h1v1h-1zM720 263h1v1h-1zM721 264h1v1h-1zM722 264h1v1h-1zM723 265h1v1h-1zM724 265h1v1h-1zM725 266h1v1h-1zM726 266h1v1h-1zM727 267h1v1h-1zM728 267h1v1h-1zM729 268h1v1h-1zM730 268h1v1h-1zM731 269h1v1h-1zM732 269h1v1h-1zM733 270h1v1h-1zM734 270h1v1h-1zM735 270h1v1h-1zM736 270h1v1h-1zM737 270h1v1h-1zM738 270h1v1h-1zM739 270h1v1h-1zM740 271h1v1h-1zM741 271h1v1h-1zM742 271h1v1h-1zM743 271h1v1h-1zM744 271h1v1h-1zM745 271h1v1h-1zM746 271h1v1h-1zM747 272h1v1h-1zM748 272h1v1h-1zM749 272h1v1h-1zM750 272h1v1h-1zM751 272h1v1h-1zM752 272h1v1h-1zM753 273h1v1h-1zM754 273h1v1h-1zM755 273h1v1h-1zM756 273h1v1h-1zM757 274h1v1h-1zM758 274h1v1h-1zM759 274h1v1h-1zM760 274h1v1h-1zM761 274h1v1h-1zM762 274h1v1h-1zM763 275h1v1h-1zM764 275h1v1h-1zM765 275h1v1h-1zM766 275h1v1h-1zM767 275h1v1h-1zM768 275h1v1h-1zM769 276h1v1h-1zM770 276h1v1h-1zM771 276h1v1h-1zM772 276h1v1h-1zM773 276h1v1h-1zM774 276h1v1h-1zM775 276h1v1h-1zM776 276h1v1h-1zM777 276h1v1h-1zM778 276h1v1h-1zM779 276h1v1h-1zM780 276h1v1h-1zM781 276h1v1h-1zM782 277h1v1h-1zM783 277h1v1h-1zM784 277h1v1h-1zM785 277h1v1h-1zM786 278h1v1h-1zM787 278h1v1h-1zM788 278h1v1h-1zM789 278h1v1h-1zM790 279h1v1h-1zM791 279h1v1h-1zM792 279h1v1h-1zM793 280h1v1h-1zM794 280h1v1h-1zM795 280h1v1h-1zM796 280h1v1h-1zM797 281h1v1h-1zM798 281h1v1h-1zM799 281h1v1h-1zM800 281h1v1h-1zM801 282h1v1h-1zM802 282h1v1h-1zM803 282h1v1h-1zM804 283h1v1h-1zM805 283h1v1h-1zM806 283h1v1h-1zM807 283h1v1h-1zM808 284h1v1h-1zM809 284h1v1h-1zM810 284h1v1h-1zM811 285h1v1h-1zM812 285h1v1h-1zM813 285h1v1h-1zM814 285h1v1h-1zM815 285h1v1h-1zM816 285h1v1h-1zM817 285h1v1h-1zM818 284h1v1h-1zM819 284h1v1h-1zM820 284h1v1h-1zM821 284h1v1h-1zM822 284h1v1h-1zM823 284h1v1h-1zM824 284h1v1h-1zM825 284h1v1h-1zM826 284h1v1h-1zM827 283h1v1h-1zM828 283h1v1h-1zM829 283h1v1h-1zM830 283h1v1h-1zM831 283h1v1h-1zM832 283h1v1h-1zM833 284h1v1h-1zM834 284h1v1h-1zM835 284h1v1h-1zM836 284h1v1h-1zM837 284h1v1h-1zM838 284h1v1h-1zM839 284h1v1h-1zM840 284h1v1h-1zM841 284h1v1h-1zM842 285h1v1h-1zM843 285h1v1h-1zM844 285h1v1h-1zM845 285h1v1h-1zM846 285h1v1h-1zM847 285h1v1h-1zM848 285h1v1h-1zM849 285h1v1h-1zM850 285h1v1h-1zM851 286h1v1h-1zM852 286h1v1h-1zM853 286h1v1h-1zM854 286h1v1h-1zM855 286h1v1h-1zM856 286h1v1h-1zM857 286h1v1h-1zM858 286h1v1h-1zM859 286h1v1h-1zM860 286h1v1h-1zM861 286h1v1h-1zM862 286h1v1h-1zM863 286h1v1h-1zM864 286h1v1h-1zM865 286h1v1h-1zM866 286h1v1h-1zM867 286h1v1h-1zM868 286h1v1h-1zM869 286h1v1h-1zM870 286h1v1h-1zM871 286h1v1h-1zM872 285h1v1h-1zM873 285h1v1h-1zM874 285h1v1h-1zM875 285h1v1h-1zM876 285h1v1h-1zM877 285h1v1h-1zM878 285h1v1h-1zM879 285h1v1h-1zM880 285h1v1h-1zM881 285h1v1h-1zM882 284h1v1h-1zM883 284h1v1h-1zM884 284h1v1h-1zM885 284h1v1h-1zM886 284h1v1h-1zM887 285h1v1h-1zM888 285h1v1h-1zM889 286h1v1h-1zM890 286h1v1h-1zM891 286h1v1h-1zM892 287h1v1h-1zM893 287h1v1h-1zM894 288h1v1h-1zM895 288h1v1h-1zM896 288h1v1h-1zM897 289h1v1h-1zM898 289h1v1h-1zM899 290h1v1h-1zM900 290h1v1h-1zM901 291h1v1h-1zM902 291h1v1h-1zM903 292h1v1h-1zM904 292h1v1h-1zM905 293h1v1h-1zM906 293h1v1h-1zM907 293h1v1h-1zM908 294h1v1h-1zM909 294h1v1h-1zM910 294h1v1h-1zM911 295h1v1h-1zM912 295h1v1h-1zM913 296h1v1h-1zM914 296h1v1h-1zM915 297h1v1h-1zM916 297h1v1h-1zM917 298h1v1h-1z" fill="#0000c8" shape-rendering="crispEdges"/>
<g shape-rendering="crispEdges">
<rect x="5" y="316" width="1" height="64" fill="#ff0000" />
<rect x="3" y="319" width="5" height="29" fill="#ff0000" />
<rect x="4" y="320" width="3" height="27" fill="#ff4500" />
<rect x="13" y="257" width="1" height="89" fill="#ff0000" />
<rect x="11" y="294" width="5" height="26" fill="#ff0000" />
<rect x="12" y="295" width="3" height="24" fill="#ff4500" />
<rect x="21" y="253" width="1" height="77" fill="#ff0000" />
<rect x="19" y="285" width="5" height="10" fill="#ff0000" />
<rect x="20" y="286" width="3" height="8" fill="#ff4500" />
<rect x="29" y="198" width="1" height="98" fill="#ff0000" />
<rect x="27" y="213" width="5" height="73" fill="#ff0000" />
<rect x="28" y="214" width="3" height="71" fill="#ff4500" />
<rect x="37" y="190" width="1" height="26" fill="#ff0000" />
<rect x="35" y="196" width="5" height="18" fill="#ff0000" />
<rect x="36" y="197" width="3" height="16" fill="#ff4500" />
<rect x="45" y="149" width="1" height="66" fill="#ff0000" />
<rect x="43" y="160" width="5" height="34" fill="#ff0000" />
<rect x="44" y="161" width="3" height="32" fill="#ff4500" />
<rect x="53" y="142" width="1" height="82" fill="#32cd32" />
<rect x="51" y="159" width="5" height="41" fill="#32cd32" />
<rect x="61" y="186" width="1" height="62" fill="#32cd32" />
<rect x="59" y="200" width="5" height="15" fill="#32cd32" />
<rect x="69" y="177" width="1" height="50" fill="#ff0000" />
<rect x="67" y="203" width="5" height="12" fill="#ff0000" />
<rect x="68" y="204" width="3" height="10" fill="#ff4500" />
<rect x="77" y="189" width="1" height="78" fill="#32cd32" />
<rect x="75" y="203" width="5" height="59" fill="#32cd32" />
<rect x="85" y="259" width="1" height="18" fill="#32cd32" />
<rect x="83" y="261" width="5" height="14" fill="#32cd32" />
<rect x="93" y="224" width="1" height="53" fill="#ff0000" />
<rect x="91" y="265" width="5" height="4" fill="#ff0000" />
<rect x="92" y="266" width="3" height="2" fill="#ff4500" />
<rect x="101" y="257" width="1" height="56" fill="#32cd32" />
<rect x="99" y="264" width="5" height="47" fill="#32cd32" />
<rect x="109" y="299" width="1" height="34" fill="#32cd32" />
<rect x="107" y="310" width="5" height="15" fill="#32cd32" />
<rect x="117" y="207" width="1" height="122" fill="#ff0000" />
<rect x="115" y="221" width="5" height="104" fill="#ff0000" />
<rect x="116" y="222" width="3" height="102" fill="#ff4500" />
<rect x="125" y="208" width="1" height="77" fill="#32cd32" />
<rect x="123" y="221" width="5" height="59" fill="#32cd32" />
<rect x="133" y="277" width="1" height="20" fill="#32cd32" />
<rect x="131" y="279" width="5" height="15" fill="#32cd32" />
<rect x="141" y="227" width="1" height="57" fill="#ff0000" />
<rect x="139" y="258" width="5" height="14" fill="#ff0000" />
<rect x="140" y="259" width="3" height="12" fill="#ff4500" />
<rect x="149" y="191" width="1" height="75" fill="#ff0000" />
<rect x="147" y="255" width="5" height="4" fill="#ff0000" />
<rect x="148" y="256" width="3" height="2" fill="#ff4500" />
<rect x="157" y="244" width="1" height="48" fill="#32cd32" />
<rect x="155" y="254" width="5" height="9" fill="#32cd32" />
<rect x="165" y="197" width="1" height="86" fill="#ff0000" />
<rect x="163" y="225" width="5" height="38" fill="#ff0000" />
<rect x="164" y="226" width="3" height="36" fill="#ff4500" />
<rect x="173" y="195" width="1" height="53" fill="#ff0000" />
<rect x="171" y="217" width="5" height="9" fill="#ff0000" />
<rect x="172" y="218" width="3" height="7" fill="#ff4500" />
<rect x="181" y="187" width="1" height="39" fill="#ff0000" />
<rect x="179" y="187" width="5" height="30" fill="#ff0000" />
<rect x="180" y="188" width="3" height="28" fill="#ff4500" />
<rect x="189" y="169" width="1" height="66" fill="#32cd32" />
<rect x="187" y="210" width="5" height="23" fill="#32cd32" />
<rect x="197" y="209" width="1" height="76" fill="#32cd32" />
<rect x="195" y="232" width="5" height="49" fill="#32cd32" />
<rect x="205" y="228" width="1" height="68" fill="#ff0000" />
<rect x="203" y="241" width="5" height="41" fill="#ff0000" />
<rect x="204" y="242" width="3" height="39" fill="#ff4500" />
<rect x="213" y="215" width="1" height="58" fill="#32cd32" />
<rect x="211" y="240" width="5" height="19" fill="#32cd32" />
<rect x="221" y="235" width="1" height="95" fill="#32cd32" />
<rect x="219" y="257" width="5" height="48" fill="#32cd32" />
<rect x="229" y="294" width="1" height="15" fill="#ff0000" />
<rect x="227" y="298" width="5" height="7" fill="#ff0000" />
<rect x="228" y="299" width="3" height="5" fill="#ff4500" />
<rect x="237" y="252" width="1" height="47" fill="#ff0000" />
<rect x="235" y="268" width="5" height="29" fill="#ff0000" />
<rect x="236" y="269" width="3" height="27" fill="#ff4500" />
<rect x="245" y="206" width="1" height="68" fill="#ff0000" />
<rect x="243" y="242" width="5" height="27" fill="#ff0000" />
<rect x="244" y="243" width="3" height="25" fill="#ff4500" />
<rect x="253" y="172" width="1" height="84" fill="#ff0000" />
<rect x="251" y="189" width="5" height="52" fill="#ff0000" />
<rect x="252" y="190" width="3" height="50" fill="#ff4500" />
<rect x="261" y="129" width="1" height="113" fill="#32cd32" />
<rect x="259" y="189" width="5" height="5" fill="#32cd32" />
<rect x="269" y="130" width="1" height="96" fill="#32cd32" />
<rect x="267" y="194" width="5" height="2" fill="#32cd32" />
<rect x="277" y="189" width="1" height="56" fill="#32cd32" />
<rect x="275" y="195" width="5" height="43" fill="#32cd32" />
<rect x="285" y="173" width="1" height="68" fill="#ff0000" />
<rect x="283" y="196" width="5" height="43" fill="#ff0000" />
<rect x="284" y="197" width="3" height="41" fill="#ff4500" />
<rect x="293" y="188" width="1" height="29" fill="#32cd32" />
<rect x="291" y="196" width="5" height="15" fill="#32cd32" />
<rect x="301" y="190" width="1" height="43" fill="#32cd32" />
<rect x="299" y="201" width="5" height="2" fill="#32cd32" />
<rect x="309" y="175" width="1" height="88" fill="#32cd32" />
<rect x="307" y="203" width="5" height="6" fill="#32cd32" />
<rect x="317" y="141" width="1" height="69" fill="#ff0000" />
<rect x="315" y="175" width="5" height="33" fill="#ff0000" />
<rect x="316" y="176" width="3" height="31" fill="#ff4500" />
<rect x="325" y="163" width="1" height="18" fill="#ff0000" />
<rect x="323" y="170" width="5" height="6" fill="#ff0000" />
<rect x="324" y="171" width="3" height="4" fill="#ff4500" />
<rect x="333" y="148" width="1" height="42" fill="#32cd32" />
<rect x="331" y="172" width="5" height="6" fill="#32cd32" />
<rect x="341" y="146" width="1" height="38" fill="#ff0000" />
<rect x="339" y="150" width="5" height="28" fill="#ff0000" />
<rect x="340" y="151" width="3" height="26" fill="#ff4500" />
<rect x="349" y="119" width="1" height="143" fill="#32cd32" />
<rect x="347" y="152" width="5" height="101" fill="#32cd32" />
<rect x="357" y="200" width="1" height="94" fill="#ff0000" />
<rect x="355" y="215" width="5" height="37" fill="#ff0000" />
<rect x="356" y="216" width="3" height="35" fill="#ff4500" />
<rect x="365" y="191" width="1" height="69" fill="#ff0000" />
<rect x="363" y="199" width="5" height="17" fill="#ff0000" />
<rect x="364" y="200" width="3" height="15" fill="#ff4500" />
<rect x="373" y="192" width="1" height="24" fill="#32cd32" />
<rect x="371" y="199" width="5" height="10" fill="#32cd32" />
<rect x="381" y="141" width="1" height="64" fill="#ff0000" />
<rect x="379" y="149" width="5" height="56" fill="#ff0000" />
<rect x="380" y="150" width="3" height="54" fill="#ff4500" />
<rect x="389" y="130" width="1" height="58" fill="#32cd32" />
<rect x="387" y="150" width="5" height="21" fill="#32cd32" />
<rect x="397" y="78" width="1" height="98" fill="#ff0000" />
<rect x="395" y="106" width="5" height="65" fill="#ff0000" />
<rect x="396" y="107" width="3" height="63" fill="#ff4500" />
<rect x="405" y="51" width="1" height="57" fill="#ff0000" />
<rect x="403" y="95" width="5" height="12" fill="#ff0000" />
<rect x="404" y="96" width="3" height="10" fill="#ff4500" />
<rect x="413" y="79" width="1" height="77" fill="#32cd32" />
<rect x="411" y="95" width="5" height="43" fill="#32cd32" />
<rect x="421" y="129" width="1" height="22" fill="#32cd32" />
<rect x="419" y="137" width="5" height="12" fill="#32cd32" />
<rect x="429" y="132" width="1" height="30" fill="#ff0000" />
<rect x="427" y="146" width="5" height="4" fill="#ff0000" />
<rect x="428" y="147" width="3" height="2" fill="#ff4500" />
<rect x="437" y="125" width="1" height="73" fill="#32cd32" />
<rect x="435" y="146" width="5" height="27" fill="#32cd32" />
<rect x="445" y="171" width="1" height="59" fill="#32cd32" />
<rect x="443" y="172" width="5" height="43" fill="#32cd32" />
<rect x="453" y="199" width="1" height="38" fill="#32cd32" />
<rect x="451" y="213" width="5" height="14" fill="#32cd32" />
<rect x="461" y="199" width="1" height="47" fill="#32cd32" />
<rect x="459" y="227" width="5" height="13" fill="#32cd32" />
<rect x="469" y="234" width="1" height="19" fill="#ff0000" />
<rect x="467" y="236" width="5" height="4" fill="#ff0000" />
<rect x="468" y="237" width="3" height="2" fill="#ff4500" />
<rect x="477" y="217" width="1" height="32" fill="#32cd32" />
<rect x="475" y="241" width="5" height="3" fill="#32cd32" />
<rect x="485" y="234" width="1" height="35" fill="#32cd32" />
<rect x="483" y="242" width="5" height="8" fill="#32cd32" />
<rect x="493" y="218" width="1" height="37" fill="#ff0000" />
<rect x="491" y="228" width="5" height="21" fill="#ff0000" />
<rect x="492" y="229" width="3" height="19" fill="#ff4500" />
<rect x="501" y="214" width="1" height="82" fill="#32cd32" />
<rect x="499" y="228" width="5" height="24" fill="#32cd32" />
<rect x="509" y="202" width="1" height="110" fill="#ff0000" />
<rect x="507" y="211" width="5" height="41" fill="#ff0000" />
<rect x="508" y="212" width="3" height="39" fill="#ff4500" />
<rect x="517" y="194" width="1" height="20" fill="#ff0000" />
<rect x="515" y="195" width="5" height="16" fill="#ff0000" />
<rect x="516" y="196" width="3" height="14" fill="#ff4500" />
<rect x="525" y="174" width="1" height="44" fill="#ff0000" />
<rect x="523" y="175" width="5" height="25" fill="#ff0000" />
<rect x="524" y="176" width="3" height="23" fill="#ff4500" />
<rect x="533" y="162" width="1" height="37" fill="#32cd32" />
<rect x="531" y="175" width="5" height="20" fill="#32cd32" />
<rect x="541" y="162" width="1" height="42" fill="#ff0000" />
<rect x="539" y="186" width="5" height="9" fill="#ff0000" />
<rect x="540" y="187" width="3" height="7" fill="#ff4500" />
<rect x="549" y="103" width="1" height="94" fill="#ff0000" />
<rect x="547" y="138" width="5" height="48" fill="#ff0000" />
<rect x="548" y="139" width="3" height="46" fill="#ff4500" />
<rect x="557" y="129" width="1" height="49" fill="#32cd32" />
<rect x="555" y="139" width="5" height="7" fill="#32cd32" />
<rect x="565" y="127" width="1" height="31" fill="#32cd32" />
<rect x="563" y="145" width="5" height="9" fill="#32cd32" />
<rect x="573" y="153" width="1" height="34" fill="#32cd32" />
<rect x="571" y="159" width="5" height="24" fill="#32cd32" />
<rect x="581" y="171" width="1" height="34" fill="#32cd32" />
<rect x="579" y="182" width="5" height="21" fill="#32cd32" />
<rect x="589" y="193" width="1" height="40" fill="#32cd32" />
<rect x="587" y="202" width="5" height="28" fill="#32cd32" />
<rect x="597" y="225" width="1" height="54" fill="#32cd32" />
<rect x="595" y="230" width="5" height="20" fill="#32cd32" />
<rect x="605" y="246" width="1" height="34" fill="#32cd32" />
<rect x="603" y="249" width="5" height="27" fill="#32cd32" />
<rect x="613" y="271" width="1" height="11" fill="#32cd32" />
<rect x="611" y="275" width="5" height="5" fill="#32cd32" />
<rect x="621" y="273" width="1" height="55" fill="#32cd32" />
<rect x="619" y="284" width="5" height="40" fill="#32cd32" />
<rect x="629" y="298" width="1" height="43" fill="#ff0000" />
<rect x="627" y="302" width="5" height="22" fill="#ff0000" />
<rect x="628" y="303" width="3" height="20" fill="#ff4500" />
<rect x="637" y="263" width="1" height="57" fill="#32cd32" />
<rect x="635" y="302" width="5" height="12" fill="#32cd32" />
<rect x="645" y="292" width="1" height="57" fill="#32cd32" />
<rect x="643" y="314" width="5" height="10" fill="#32cd32" />
<rect x="653" y="299" width="1" height="62" fill="#32cd32" />
<rect x="651" y="323" width="5" height="13" fill="#32cd32" />
<rect x="661" y="295" width="1" height="43" fill="#ff0000" />
<rect x="659" y="306" width="5" height="30" fill="#ff0000" />
<rect x="660" y="307" width="3" height="28" fill="#ff4500" />
<rect x="669" y="270" width="1" height="42" fill="#ff0000" />
<rect x="667" y="295" width="5" height="16" fill="#ff0000" />
<rect x="668" y="296" width="3" height="14" fill="#ff4500" />
<rect x="677" y="264" width="1" height="61" fill="#ff0000" />
<rect x="675" y="270" width="5" height="24" fill="#ff0000" />
<rect x="676" y="271" width="3" height="22" fill="#ff4500" />
<rect x="685" y="247" width="1" height="36" fill="#ff0000" />
<rect x="683" y="256" width="5" height="14" fill="#ff0000" />
<rect x="684" y="257" width="3" height="12" fill="#ff4500" />
<rect x="693" y="235" width="1" height="48" fill="#32cd32" />
<rect x="691" y="255" width="5" height="3" fill="#32cd32" />
<rect x="701" y="249" width="1" height="38" fill="#32cd32" />
<rect x="699" y="257" width="5" height="8" fill="#32cd32" />
<rect x="709" y="250" width="1" height="26" fill="#32cd32" />
<rect x="707" y="264" width="5" height="4" fill="#32cd32" />
<rect x="717" y="239" width="1" height="30" fill="#ff0000" />
<rect x="715" y="259" width="5" height="9" fill="#ff0000" />
<rect x="716" y="260" width="3" height="7" fill="#ff4500" />
<rect x="725" y="232" width="1" height="36" fill="#ff0000" />
<rect x="723" y="246" width="5" height="13" fill="#ff0000" />
<rect x="724" y="247" width="3" height="11" fill="#ff4500" />
<rect x="733" y="205" width="1" height="47" fill="#ff0000" />
<rect x="731" y="225" width="5" height="23" fill="#ff0000" />
<rect x="732" y="226" width="3" height="21" fill="#ff4500" />
<rect x="741" y="190" width="1" height="57" fill="#ff0000" />
<rect x="739" y="221" width="5" height="6" fill="#ff0000" />
<rect x="740" y="222" width="3" height="4" fill="#ff4500" />
<rect x="749" y="200" width="1" height="53" fill="#32cd32" />
<rect x="747" y="221" width="5" height="1" fill="#32cd32" />
<rect x="757" y="219" width="1" height="33" fill="#32cd32" />
<rect x="755" y="221" width="5" height="27" fill="#32cd32" />
<rect x="765" y="226" width="1" height="68" fill="#32cd32" />
<rect x="763" y="229" width="5" height="52" fill="#32cd32" />
<rect x="773" y="261" width="1" height="48" fill="#32cd32" />
<rect x="771" y="280" width="5" height="16" fill="#32cd32" />
<rect x="781" y="279" width="1" height="36" fill="#ff0000" />
<rect x="779" y="285" width="5" height="11" fill="#ff0000" />
<rect x="780" y="286" width="3" height="9" fill="#ff4500" />
<rect x="789" y="278" width="1" height="89" fill="#32cd32" />
<rect x="787" y="285" width="5" height="79" fill="#32cd32" />
<rect x="797" y="356" width="1" height="60" fill="#ff0000" />
<rect x="795" y="360" width="5" height="5" fill="#ff0000" />
<rect x="796" y="361" width="3" height="3" fill="#ff4500" />
<rect x="805" y="351" width="1" height="13" fill="#ff0000" />
<rect x="803" y="354" width="5" height="7" fill="#ff0000" />
<rect x="804" y="355" width="3" height="5" fill="#ff4500" />
<rect x="813" y="340" width="1" height="35" fill="#32cd32" />
<rect x="811" y="363" width="5" height="8" fill="#32cd32" />
<rect x="821" y="306" width="1" height="68" fill="#ff0000" />
<rect x="819" y="323" width="5" height="48" fill="#ff0000" />
<rect x="820" y="324" width="3" height="46" fill="#ff4500" />
<rect x="829" y="288" width="1" height="38" fill="#ff0000" />
<rect x="827" y="293" width="5" height="31" fill="#ff0000" />
<rect x="828" y="294" width="3" height="29" fill="#ff4500" />
<rect x="837" y="265" width="1" height="42" fill="#32cd32" />
<rect x="835" y="292" width="5" height="7" fill="#32cd32" />
<rect x="845" y="260" width="1" height="45" fill="#ff0000" />
<rect x="843" y="277" width="5" height="22" fill="#ff0000" />
<rect x="844" y="278" width="3" height="20" fill="#ff4500" />
<rect x="853" y="275" width="1" height="14" fill="#32cd32" />
<rect x="851" y="276" width="5" height="8" fill="#32cd32" />
<rect x="861" y="246" width="1" height="38" fill="#ff0000" />
<rect x="859" y="267" width="5" height="11" fill="#ff0000" />
<rect x="860" y="268" width="3" height="9" fill="#ff4500" />
<rect x="869" y="244" width="1" height="35" fill="#ff0000" />
<rect x="867" y="258" width="5" height="9" fill="#ff0000" />
<rect x="868" y="259" width="3" height="7" fill="#ff4500" />
<rect x="877" y="240" width="1" height="28" fill="#ff0000" />
<rect x="875" y="252" width="5" height="7" fill="#ff0000" />
<rect x="876" y="253" width="3" height="5" fill="#ff4500" />
<rect x="885" y="164" width="1" height="94" fill="#ff0000" />
<rect x="883" y="245" width="5" height="9" fill="#ff0000" />
<rect x="884" y="246" width="3" height="7" fill="#ff4500" />
<rect x="893" y="217" width="1" height="110" fill="#32cd32" />
<rect x="891" y="245" width="5" height="73" fill="#32cd32" />
<rect x="901" y="303" width="1" height="16" fill="#ff0000" />
<rect x="899" y="307" width="5" height="11" fill="#ff0000" />
<rect x="900" y="308" width="3" height="9" fill="#ff4500" />
<rect x="909" y="272" width="1" height="40" fill="#ff0000" />
<rect x="907" y="281" width="5" height="25" fill="#ff0000" />
<rect x="908" y="282" width="3" height="23" fill="#ff4500" />
<rect x="917" y="277" width="1" height="16" fill="#32cd32" />
<rect x="915" y="281" width="5" height="8" fill="#32cd32" />
</g>
<rect x="741" y="192" width="289" height="2" fill="#ff2828" />
<rect x="710" y="268" width="318" height="2" fill="#96c814" />
<rect x="652" y="361" width="382" height="2" fill="#1e88e5" />
<rect x="2" y="32" width="2" height="394" fill="#fff" />
<rect x="4" y="31" width="1" height="396" fill="#000" />
<g shape-rendering="crispEdges">
<rect x="4" y="458" width="3" height="48" fill="#c0c0c0" />
<rect x="12" y="458" width="3" height="48" fill="#c0c0c0" />
<rect x="20" y="458" width="3" height="47" fill="#c0c0c0" />
<rect x="28" y="458" width="3" height="39" fill="#c0c0c0" />
<rect x="36" y="458" width="3" height="33" fill="#c0c0c0" />
<rect x="44" y="458" width="3" height="24" fill="#c0c0c0" />
<rect x="52" y="458" width="3" height="20" fill="#c0c0c0" />
<rect x="60" y="458" width="3" height="18" fill="#c0c0c0" />
<rect x="68" y="458" width="3" height="15" fill="#c0c0c0" />
<rect x="76" y="458" width="3" height="17" fill="#c0c0c0" />
<rect x="84" y="458" width="3" height="19" fill="#c0c0c0" />
<rect x="92" y="458" width="3" height="20" fill="#c0c0c0" />
<rect x="100" y="458" width="3" height="24" fill="#c0c0c0" />
<rect x="108" y="458" width="3" height="28" fill="#c0c0c0" />
<rect x="116" y="458" width="3" height="23" fill="#c0c0c0" />
<rect x="124" y="458" width="3" height="24" fill="#c0c0c0" />
<rect x="132" y="458" width="3" height="25" fill="#c0c0c0" />
<rect x="140" y="458" width="3" height="22" fill="#c0c0c0" />
<rect x="148" y="458" width="3" height="20" fill="#c0c0c0" />
<rect x="156" y="458" width="3" height="19" fill="#c0c0c0" />
<rect x="164" y="458" width="3" height="15" fill="#c0c0c0" />
<rect x="172" y="458" width="3" height="11" fill="#c0c0c0" />
<rect x="180" y="458" width="3" height="5" fill="#c0c0c0" />
<rect x="188" y="458" width="3" height="4" fill="#c0c0c0" />
<rect x="196" y="458" width="3" height="7" fill="#c0c0c0" />
<rect x="204" y="458" width="3" height="6" fill="#c0c0c0" />
<rect x="212" y="458" width="3" height="7" fill="#c0c0c0" />
<rect x="220" y="458" width="3" height="10" fill="#c0c0c0" />
<rect x="228" y="458" width="3" height="13" fill="#c0c0c0" />
<rect x="236" y="458" width="3" height="13" fill="#c0c0c0" />
<rect x="244" y="458" width="3" height="10" fill="#c0c0c0" />
<rect x="252" y="458" width="3" height="4" fill="#c0c0c0" />
<rect x="260" y="457" width="3" height="1" fill="#c0c0c0" />
<rect x="268" y="453" width="3" height="5" fill="#c0c0c0" />
<rect x="276" y="454" width="3" height="4" fill="#c0c0c0" />
<rect x="284" y="451" width="3" height="7" fill="#c0c0c0" />
<rect x="292" y="450" width="3" height="8" fill="#c0c0c0" />
<rect x="300" y="449" width="3" height="9" fill="#c0c0c0" />
<rect x="308" y="449" width="3" height="9" fill="#c0c0c0" />
<rect x="316" y="446" width="3" height="12" fill="#c0c0c0" />
<rect x="324" y="444" width="3" height="14" fill="#c0c0c0" />
<rect x="332" y="442" width="3" height="16" fill="#c0c0c0" />
<rect x="340" y="440" width="3" height="18" fill="#c0c0c0" />
<rect x="348" y="445" width="3" height="13" fill="#c0c0c0" />
<rect x="356" y="447" width="3" height="11" fill="#c0c0c0" />
<rect x="364" y="448" width="3" height="10" fill="#c0c0c0" />
<rect x="372" y="449" width="3" height="9" fill="#c0c0c0" />
<rect x="380" y="446" width="3" height="12" fill="#c0c0c0" />
<rect x="388" y="444" width="3" height="14" fill="#c0c0c0" />
<rect x="396" y="439" width="3" height="19" fill="#c0c0c0" />
<rect x="404" y="434" width="3" height="24" fill="#c0c0c0" />
<rect x="412" y="433" width="3" height="25" fill="#c0c0c0" />
<rect x="420" y="434" width="3" height="24" fill="#c0c0c0" />
<rect x="428" y="435" width="3" height="23" fill="#c0c0c0" />
<rect x="436" y="438" width="3" height="20" fill="#c0c0c0" />
<rect x="444" y="443" width="3" height="15" fill="#c0c0c0" />
<rect x="452" y="449" width="3" height="9" fill="#c0c0c0" />
<rect x="460" y="454" width="3" height="4" fill="#c0c0c0" />
<rect x="468" y="458" width="3" height="1" fill="#c0c0c0" />
<rect x="476" y="458" width="3" height="5" fill="#c0c0c0" />
<rect x="484" y="458" width="3" height="8" fill="#c0c0c0" />
<rect x="492" y="458" width="3" height="9" fill="#c0c0c0" />
<rect x="500" y="458" width="3" height="12" fill="#c0c0c0" />
<rect x="508" y="458" width="3" height="10" fill="#c0c0c0" />
<rect x="516" y="458" width="3" height="8" fill="#c0c0c0" />
<rect x="524" y="458" width="3" height="4" fill="#c0c0c0" />
<rect x="532" y="458" width="3" height="3" fill="#c0c0c0" />
<rect x="540" y="458" width="3" height="1" fill="#c0c0c0" />
<rect x="548" y="454" width="3" height="4" fill="#c0c0c0" />
<rect x="556" y="450" width="3" height="8" fill="#c0c0c0" />
<rect x="564" y="448" width="3" height="10" fill="#c0c0c0" />
<rect x="572" y="449" width="3" height="9" fill="#c0c0c0" />
<rect x="580" y="451" width="3" height="7" fill="#c0c0c0" />
<rect x="588" y="455" width="3" height="3" fill="#c0c0c0" />
<rect x="596" y="458" width="3" height="3" fill="#c0c0c0" />
<rect x="604" y="458" width="3" height="9" fill="#c0c0c0" />
<rect x="612" y="458" width="3" height="13" fill="#c0c0c0" />
<rect x="620" y="458" width="3" height="20" fill="#c0c0c0" />
<rect x="628" y="458" width="3" height="24" fill="#c0c0c0" />
<rect x="636" y="458" width="3" height="27" fill="#c0c0c0" />
<rect x="644" y="458" width="3" height="29" fill="#c0c0c0" />
<rect x="652" y="458" width="3" height="33" fill="#c0c0c0" />
<rect x="660" y="458" width="3" height="33" fill="#c0c0c0" />
<rect x="668" y="458" width="3" height="32" fill="#c0c0c0" />
<rect x="676" y="458" width="3" height="28" fill="#c0c0c0" />
<rect x="684" y="458" width="3" height="24" fill="#c0c0c0" />
<rect x="692" y="458" width="3" height="21" fill="#c0c0c0" />
<rect x="700" y="458" width="3" height="19" fill="#c0c0c0" />
<rect x="708" y="458" width="3" height="17" fill="#c0c0c0" />
<rect x="716" y="458" width="3" height="14" fill="#c0c0c0" />
<rect x="724" y="458" width="3" height="12" fill="#c0c0c0" />
<rect x="732" y="458" width="3" height="8" fill="#c0c0c0" />
<rect x="740" y="458" width="3" height="4" fill="#c0c0c0" />
<rect x="748" y="458" width="3" height="1" fill="#c0c0c0" />
<rect x="756" y="458" width="3" height="1" fill="#c0c0c0" />
<rect x="764" y="458" width="3" height="4" fill="#c0c0c0" />
<rect x="772" y="458" width="3" height="6" fill="#c0c0c0" />
<rect x="780" y="458" width="3" height="8" fill="#c0c0c0" />
<rect x="788" y="458" width="3" height="15" fill="#c0c0c0" />
<rect x="796" y="458" width="3" height="20" fill="#c0c0c0" />
<rect x="804" y="458" width="3" height="24" fill="#c0c0c0" />
<rect x="812" y="458" width="3" height="27" fill="#c0c0c0" />
<rect x="820" y="458" width="3" height="26" fill="#c0c0c0" />
<rect x="828" y="458" width="3" height="22" fill="#c0c0c0" />
<rect x="836" y="458" width="3" height="20" fill="#c0c0c0" />
<rect x="844" y="458" width="3" height="16" fill="#c0c0c0" />
<rect x="852" y="458" width="3" height="14" fill="#c0c0c0" />
<rect x="860" y="458" width="3" height="10" fill="#c0c0c0" />
<rect x="868" y="458" width="3" height="7" fill="#c0c0c0" />
<rect x="876" y="458" width="3" height="3" fill="#c0c0c0" />
<rect x="884" y="457" width="3" height="1" fill="#c0c0c0" />
<rect x="892" y="458" width="3" height="3" fill="#c0c0c0" />
<rect x="900" y="458" width="3" height="5" fill="#c0c0c0" />
<rect x="908" y="458" width="3" height="4" fill="#c0c0c0" />
<rect x="916" y="458" width="3" height="4" fill="#c0c0c0" />
</g>
<path d="M5 499h1v1h-1zM6 498h1v1h-1zM7 498h1v1h-1zM8 498h1v1h-1zM9 498h1v1h-1zM10 498h1v1h-1zM11 498h1v1h-1zM12 497h1v1h-1zM13 497h1v1h-1zM14 497h1v1h-1zM15 498h1v1h-1zM16 498h1v1h-1zM17 498h1v1h-1zM18 498h1v1h-1zM19 498h1v1h-1zM20 498h1v1h-1zM21 499h1v1h-1zM22 498h1v1h-1zM23 498h1v1h-1zM24 498h1v1h-1zM25 498h1v1h-1zM26 498h1v1h-1zM27 498h1v1h-1zM28 497h1v1h-1zM29 497h1v1h-1zM30 497h1v1h-1zM31 497h1v1h-1zM32 497h1v1h-1zM33 497h1v1h-1zM34 497h1v1h-1zM35 497h1v1h-1zM36 497h1v1h-1zM37 497h1v1h-1zM38 497h1v1h-1zM39 497h1v1h-1zM40 497h1v1h-1zM41 497h1v1h-1zM42 496h1v1h-1zM43 496h1v1h-1zM44 496h1v1h-1zM45 496h1v1h-1zM46 496h1v1h-1zM47 496h1v1h-1zM48 496h1v1h-1zM49 495h1v1h-1zM50 495h1v1h-1zM51 495h1v1h-1zM52 495h1v1h-1zM53 495h1v1h-1zM54 495h1v1h-1zM55 494h1v1h-1zM56 494h1v1h-1zM57 494h1v1h-1zM58 493h1v1h-1zM59 493h1v1h-1zM60 493h1v1h-1zM61 493h1v1h-1zM62 492h1v1h-1zM63 492h1v1h-1zM64 491h1v1h-1zM65 491h1v1h-1zM66 491h1v1h-1zM67 490h1v1h-1zM68 490h1v1h-1zM69 489h1v1h-1zM70 489h1v1h-1zM71 489h1v1h-1zM72 488h1v1h-1zM73 488h1v1h-1zM74 487h1v1h-1zM75 487h1v1h-1zM76 486h1v1h-1zM77 486h1v1h-1zM78 486h1v1h-1zM79 485h1v1h-1zM80 485h1v1h-1zM81 485h1v1h-1zM82 484h1v1h-1zM83 484h1v1h-1zM84 484h1v1h-1zM85 483h1v1h-1zM86 483h1v1h-1zM87 483h1v1h-1zM88 482h1v1h-1zM89 482h1v1h-1zM90 482h1v1h-1zM91 481h1v1h-1zM92 481h1v1h-1zM93 481h1v1h-1zM94 480h1v1h-1zM95 480h1v1h-1zM96 480h1v1h-1zM97 479h1v1h-1zM98 479h1v1h-1zM99 479h1v1h-1zM100 479h1v1h-1zM101 478h1v1h-1zM102 478h1v1h-1zM103 478h1v1h-1zM104 478h1v1h-1zM105 478h1v1h-1zM106 478h1v1h-1zM107 478h1v1h-1zM108 478h1v1h-1zM109 478h1v1h-1zM110 478h1v1h-1zM111 478h1v1h-1zM112 478h1v1h-1zM113 478h1v1h-1zM114 478h1v1h-1zM115 478h1v1h-1zM116 478h1v1h-1zM117 478h1v1h-1zM118 478h1v1h-1zM119 478h1v1h-1zM120 478h1v1h-1zM121 478h1v1h-1zM122 478h1v1h-1zM123 478h1v1h-1zM124 478h1v1h-1zM125 478h1v1h-1zM126 478h1v1h-1zM127 479h1v1h-1zM128 479h1v1h-1zM129 479h1v1h-1zM130 479h1v1h-1zM131 479h1v1h-1zM132 479h1v1h-1zM133 480h1v1h-1zM134 480h1v1h-1zM135 480h1v1h-1zM136 480h1v1h-1zM137 480h1v1h-1zM138 480h1v1h-1zM139 480h1v1h-1zM140 480h1v1h-1zM141 481h1v1h-1zM142 481h1v1h-1zM143 481h1v1h-1zM144 481h1v1h-1zM145 481h1v1h-1zM146 481h1v1h-1zM147 481h1v1h-1zM148 481h1v1h-1zM149 481h1v1h-1zM150 481h1v1h-1zM151 481h1v1h-1zM152 481h1v1h-1zM153 481h1v1h-1zM154 481h1v1h-1zM155 481h1v1h-1zM156 481h1v1h-1zM157 481h1v1h-1zM158 480h1v1h-1zM159 480h1v1h-1zM160 480h1v1h-1zM161 480h1v1h-1zM162 480h1v1h-1zM163 480h1v1h-1zM164 480h1v1h-1zM165 480h1v1h-1zM166 479h1v1h-1zM167 479h1v1h-1zM168 479h1v1h-1zM169 479h1v1h-1zM170 479h1v1h-1zM171 478h1v1h-1zM172 478h1v1h-1zM173 478h1v1h-1zM174 478h1v1h-1zM175 477h1v1h-1zM176 477h1v1h-1zM177 477h1v1h-1zM178 476h1v1h-1zM179 476h1v1h-1zM180 475h1v1h-1zM181 475h1v1h-1zM182 475h1v1h-1zM183 474h1v1h-1zM184 474h1v1h-1zM185 474h1v1h-1zM186 474h1v1h-1zM187 473h1v1h-1zM188 473h1v1h-1zM189 473h1v1h-1zM190 473h1v1h-1zM191 472h1v1h-1zM192 472h1v1h-1zM193 472h1v1h-1zM194 472h1v1h-1zM195 471h1v1h-1zM196 471h1v1h-1zM197 471h1v1h-1zM198 471h1v1h-1zM199 471h1v1h-1zM200 470h1v1h-1zM201 470h1v1h-1zM202 470h1v1h-1zM203 470h1v1h-1zM204 470h1v1h-1zM205 469h1v1h-1zM206 469h1v1h-1zM207 469h1v1h-1zM208 469h1v1h-1zM209 468h1v1h-1zM210 468h1v1h-1zM211 468h1v1h-1zM212 468h1v1h-1zM213 467h1v1h-1zM214 467h1v1h-1zM215 467h1v1h-1zM216 467h1v1h-1zM217 467h1v1h-1zM218 467h1v1h-1zM219 467h1v1h-1zM220 467h1v1h-1zM221 466h1v1h-1zM222 466h1v1h-1zM223 466h1v1h-1zM224 466h1v1h-1zM225 466h1v1h-1zM226 466h1v1h-1zM227 466h1v1h-1zM228 466h1v1h-1zM229 466h1v1h-1zM230 466h1v1h-1zM231 466h1v1h-1zM232 466h1v1h-1zM233 466h1v1h-1zM234 466h1v1h-1zM235 466h1v1h-1zM236 466h1v1h-1zM237 466h1v1h-1zM238 466h1v1h-1zM239 466h1v1h-1zM240 466h1v1h-1zM241 466h1v1h-1zM242 466h1v1h-1zM243 466h1v1h-1zM244 466h1v1h-1zM245 466h1v1h-1zM246 466h1v1h-1zM247 466h1v1h-1zM248 466h1v1h-1zM249 466h1v1h-1zM250 466h1v1h-1zM251 466h1v1h-1zM252 466h1v1h-1zM253 466h1v1h-1zM254 466h1v1h-1zM255 466h1v1h-1zM256 466h1v1h-1zM257 466h1v1h-1zM258 466h1v1h-1zM259 466h1v1h-1zM260 466h1v1h-1zM261 466h1v1h-1zM262 465h1v1h-1zM263 465h1v1h-1zM264 465h1v1h-1zM265 465h1v1h-1zM266 465h1v1h-1zM267 465h1v1h-1zM268 464h1v1h-1zM269 464h1v1h-1zM270 464h1v1h-1zM271 464h1v1h-1zM272 464h1v1h-1zM273 464h1v1h-1zM274 463h1v1h-1zM275 463h1v1h-1zM276 463h1v1h-1zM277 463h1v1h-1zM278 463h1v1h-1zM279 463h1v1h-1zM280 462h1v1h-1zM281 462h1v1h-1zM282 462h1v1h-1zM283 462h1v1h-1zM284 461h1v1h-1zM285 461h1v1h-1zM286 461h1v1h-1zM287 461h1v1h-1zM288 460h1v1h-1zM289 460h1v1h-1zM290 460h1v1h-1zM291 460h1v1h-1zM292 460h1v1h-1zM293 459h1v1h-1zM294 459h1v1h-1zM295 459h1v1h-1zM296 459h1v1h-1zM297 458h1v1h-1zM298 458h1v1h-1zM299 458h1v1h-1zM300 458h1v1h-1zM301 457h1v1h-1zM302 457h1v1h-1zM303 457h1v1h-1zM304 457h1v1h-1zM305 457h1v1h-1zM306 456h1v1h-1zM307 456h1v1h-1zM308 456h1v1h-1zM309 456h1v1h-1zM310 455h1v1h-1zM311 455h1v1h-1zM312 454h1v1h-1zM313 454h1v1h-1zM314 454h1v1h-1zM315 453h1v1h-1zM316 453h1v1h-1zM317 452h1v1h-1zM318 452h1v1h-1zM319 452h1v1h-1zM320 452h1v1h-1zM321 451h1v1h-1zM322 451h1v1h-1zM323 451h1v1h-1zM324 451h1v1h-1zM325 450h1v1h-1zM326 450h1v1h-1zM327 450h1v1h-1zM328 450h1v1h-1zM329 450h1v1h-1zM330 449h1v1h-1zM331 449h1v1h-1zM332 449h1v1h-1zM333 449h1v1h-1zM334 449h1v1h-1zM335 449h1v1h-1zM336 448h1v1h-1zM337 448h1v1h-1zM338 448h1v1h-1zM339 448h1v1h-1zM340 448h1v1h-1zM341 448h1v1h-1zM342 447h1v1h-1zM343 447h1v1h-1zM344 447h1v1h-1zM345 447h1v1h-1zM346 447h1v1h-1zM347 446h1v1h-1zM348 446h1v1h-1zM349 446h1v1h-1zM350 446h1v1h-1zM351 446h1v1h-1zM352 446h1v1h-1zM353 446h1v1h-1zM354 446h1v1h-1zM355 446h1v1h-1zM356 446h1v1h-1zM357 446h1v1h-1zM358 446h1v1h-1zM359 446h1v1h-1zM360 446h1v1h-1zM361 446h1v1h-1zM362 446h1v1h-1zM363 446h1v1h-1zM364 446h1v1h-1zM365 446h1v1h-1zM366 446h1v1h-1zM367 446h1v1h-1zM368 446h1v1h-1zM369 446h1v1h-1zM370 446h1v1h-1zM371 446h1v1h-1zM372 446h1v1h-1zM373 446h1v1h-1zM374 446h1v1h-1zM375 446h1v1h-1zM376 446h1v1h-1zM377 446h1v1h-1zM378 445h1v1h-1zM379 445h1v1h-1zM380 445h1v1h-1zM381 445h1v1h-1zM382 445h1v1h-1zM383 445h1v1h-1zM384 445h1v1h-1zM385 445h1v1h-1zM386 445h1v1h-1zM387 445h1v1h-1zM388 445h1v1h-1zM389 445h1v1h-1zM390 445h1v1h-1zM391 445h1v1h-1zM392 445h1v1h-1zM393 445h1v1h-1zM394 444h1v1h-1zM395 444h1v1h-1zM396 444h1v1h-1zM397 444h1v1h-1zM398 444h1v1h-1zM399 444h1v1h-1zM400 444h1v1h-1zM401 444h1v1h-1zM402 444h1v1h-1zM403 443h1v1h-1zM404 443h1v1h-1zM405 443h1v1h-1zM406 443h1v1h-1zM407 443h1v1h-1zM408 443h1v1h-1zM409 443h1v1h-1zM410 443h1v1h-1zM411 443h1v1h-1zM412 443h1v1h-1zM413 443h1v1h-1zM414 443h1v1h-1zM415 443h1v1h-1zM416 443h1v1h-1zM417 442h1v1h-1zM418 442h1v1h-1zM419 442h1v1h-1zM420 442h1v1h-1zM421 442h1v1h-1zM422 441h1v1h-1zM423 441h1v1h-1zM424 441h1v1h-1zM425 441h1v1h-1zM426 441h1v1h-1zM427 441h1v1h-1zM428 441h1v1h-1zM429 440h1v1h-1zM430 440h1v1h-1zM431 440h1v1h-1zM432 440h1v1h-1zM433 440h1v1h-1zM434 440h1v1h-1zM435 440h1v1h-1zM436 439h1v1h-1zM437 439h1v1h-1zM438 439h1v1h-1zM439 439h1v1h-1zM440 439h1v1h-1zM441 439h1v1h-1zM442 439h1v1h-1zM443 438h1v1h-1zM444 438h1v1h-1zM445 438h1v1h-1zM446 438h1v1h-1zM447 438h1v1h-1zM448 439h1v1h-1zM449 439h1v1h-1zM450 439h1v1h-1zM451 439h1v1h-1zM452 439h1v1h-1zM453 439h1v1h-1zM454 439h1v1h-1zM455 440h1v1h-1zM456 440h1v1h-1zM457 440h1v1h-1zM458 440h1v1h-1zM459 440h1v1h-1zM460 440h1v1h-1zM461 440h1v1h-1zM462 441h1v1h-1zM463 441h1v1h-1zM464 441h1v1h-1zM465 441h1v1h-1zM466 442h1v1h-1zM467 442h1v1h-1zM468 442h1v1h-1zM469 443h1v1h-1zM470 443h1v1h-1zM471 443h1v1h-1zM472 444h1v1h-1zM473 444h1v1h-1zM474 444h1v1h-1zM475 445h1v1h-1zM476 445h1v1h-1zM477 445h1v1h-1zM478 446h1v1h-1zM479 446h1v1h-1zM480 447h1v1h-1zM481 447h1v1h-1zM482 448h1v1h-1zM483 448h1v1h-1zM484 449h1v1h-1zM485 449h1v1h-1zM486 449h1v1h-1zM487 450h1v1h-1zM488 450h1v1h-1zM489 451h1v1h-1zM490 451h1v1h-1zM491 452h1v1h-1zM492 452h1v1h-1zM493 452h1v1h-1zM494 453h1v1h-1zM495 453h1v1h-1zM496 454h1v1h-1zM497 454h1v1h-1zM498 455h1v1h-1zM499 455h1v1h-1zM500 456h1v1h-1zM501 456h1v1h-1zM502 457h1v1h-1zM503 457h1v1h-1zM504 458h1v1h-1zM505 458h1v1h-1zM506 458h1v1h-1zM507 459h1v1h-1zM508 459h1v1h-1zM509 459h1v1h-1zM510 460h1v1h-1zM511 460h1v1h-1zM512 460h1v1h-1zM513 461h1v1h-1zM514 461h1v1h-1zM515 461h1v1h-1zM516 462h1v1h-1zM517 462h1v1h-1zM518 462h1v1h-1zM519 462h1v1h-1zM520 463h1v1h-1zM521 463h1v1h-1zM522 463h1v1h-1zM523 463h1v1h-1zM524 463h1v1h-1zM525 464h1v1h-1zM526 464h1v1h-1zM527 464h1v1h-1zM528 464h1v1h-1zM529 464h1v1h-1zM530 464h1v1h-1zM531 464h1v1h-1zM532 464h1v1h-1zM533 465h1v1h-1zM534 465h1v1h-1zM535 465h1v1h-1zM536 465h1v1h-1zM537 465h1v1h-1zM538 465h1v1h-1zM539 465h1v1h-1zM540 465h1v1h-1zM541 465h1v1h-1zM542 464h1v1h-1zM543 464h1v1h-1zM544 464h1v1h-1zM545 464h1v1h-1zM546 464h1v1h-1zM547 463h1v1h-1zM548 463h1v1h-1zM549 463h1v1h-1zM550 463h1v1h-1zM551 463h1v1h-1zM552 462h1v1h-1zM553 462h1v1h-1zM554 462h1v1h-1zM555 462h1v1h-1zM556 461h1v1h-1zM557 461h1v1h-1zM558 461h1v1h-1zM559 461h1v1h-1zM560 460h1v1h-1zM561 460h1v1h-1zM562 460h1v1h-1zM563 460h1v1h-1zM564 459h1v1h-1zM565 459h1v1h-1zM566 459h1v1h-1zM567 459h1v1h-1zM568 458h1v1h-1zM569 458h1v1h-1zM570 458h1v1h-1zM571 458h1v1h-1zM572 457h1v1h-1zM573 457h1v1h-1zM574 457h1v1h-1zM575 457h1v1h-1zM576 457h1v1h-1zM577 456h1v1h-1zM578 456h1v1h-1zM579 456h1v1h-1zM580 456h1v1h-1zM581 456h1v1h-1zM582 455h1v1h-1zM583 455h1v1h-1zM584 455h1v1h-1zM585 455h1v1h-1zM586 455h1v1h-1zM587 455h1v1h-1zM588 455h1v1h-1zM589 454h1v1h-1zM590 454h1v1h-1zM591 454h1v1h-1zM592 454h1v1h-1zM593 454h1v1h-1zM594 454h1v1h-1zM595 454h1v1h-1zM596 454h1v1h-1zM597 454h1v1h-1zM598 454h1v1h-1zM599 455h1v1h-1zM600 455h1v1h-1zM601 455h1v1h-1zM602 455h1v1h-1zM603 455h1v1h-1zM604 455h1v1h-1zM605 455h1v1h-1zM606 455h1v1h-1zM607 455h1v1h-1zM608 456h1v1h-1zM609 456h1v1h-1zM610 456h1v1h-1zM611 456h1v1h-1zM612 456h1v1h-1zM613 456h1v1h-1zM614 457h1v1h-1zM615 457h1v1h-1zM616 457h1v1h-1zM617 458h1v1h-1zM618 458h1v1h-1zM619 458h1v1h-1zM620 459h1v1h-1zM621 459h1v1h-1zM622 459h1v1h-1zM623 460h1v1h-1zM624 460h1v1h-1zM625 461h1v1h-1zM626 461h1v1h-1zM627 461h1v1h-1zM628 462h1v1h-1zM629 462h1v1h-1zM630 463h1v1h-1zM631 463h1v1h-1zM632 464h1v1h-1zM633 464h1v1h-1zM634 465h1v1h-1zM635 465h1v1h-1zM636 466h1v1h-1zM637 466h1v1h-1zM638 467h1v1h-1zM639 467h1v1h-1zM640 468h1v1h-1zM641 469h1v1h-1zM642 469h1v1h-1zM643 470h1v1h-1zM644 470h1v1h-1zM645 471h1v1h-1zM646 472h1v1h-1zM647 472h1v1h-1zM648 473h1v1h-1zM649 473h1v1h-1zM650 474h1v1h-1zM651 474h1v1h-1zM652 475h1v1h-1zM653 476h1v1h-1zM654 476h1v1h-1zM655 476h1v1h-1zM656 477h1v1h-1zM657 477h1v1h-1zM658 478h1v1h-1zM659 478h1v1h-1zM660 478h1v1h-1zM661 479h1v1h-1zM662 479h1v1h-1zM663 480h1v1h-1zM664 480h1v1h-1zM665 480h1v1h-1zM666 481h1v1h-1zM667 481h1v1h-1zM668 482h1v1h-1zM669 482h1v1h-1zM670 482h1v1h-1zM671 483h1v1h-1zM672 483h1v1h-1zM673 483h1v1h-1zM674 484h1v1h-1zM675 484h1v1h-1zM676 484h1v1h-1zM677 484h1v1h-1zM678 485h1v1h-1zM679 485h1v1h-1zM680 485h1v1h-1zM681 485h1v1h-1zM682 485h1v1h-1zM683 485h1v1h-1zM684 485h1v1h-1zM685 485h1v1h-1zM686 485h1v1h-1zM687 485h1v1h-1zM688 485h1v1h-1zM689 485h1v1h-1zM690 485h1v1h-1zM691 485h1v1h-1zM692 485h1v1h-1zM693 485h1v1h-1zM694 485h1v1h-1zM695 485h1v1h-1zM696 485h1v1h-1zM697 485h1v1h-1zM698 485h1v1h-1zM699 485h1v1h-1zM700 485h1v1h-1zM701 484h1v1h-1zM702 484h1v1h-1zM703 484h1v1h-1zM704 484h1v1h-1zM705 484h1v1h-1zM706 484h1v1h-1zM707 484h1v1h-1zM708 484h1v1h-1zM709 483h1v1h-1zM710 483h1v1h-1zM711 483h1v1h-1zM712 483h1v1h-1zM713 483h1v1h-1zM714 483h1v1h-1zM715 482h1v1h-1zM716 482h1v1h-1zM717 482h1v1h-1zM718 482h1v1h-1zM719 481h1v1h-1zM720 481h1v1h-1zM721 481h1v1h-1zM722 480h1v1h-1zM723 480h1v1h-1zM724 480h1v1h-1zM725 480h1v1h-1zM726 479h1v1h-1zM727 479h1v1h-1zM728 478h1v1h-1zM729 478h1v1h-1zM730 478h1v1h-1zM731 477h1v1h-1zM732 477h1v1h-1zM733 476h1v1h-1zM734 476h1v1h-1zM735 476h1v1h-1zM736 475h1v1h-1zM737 475h1v1h-1zM738 474h1v1h-1zM739 474h1v1h-1zM740 474h1v1h-1zM741 473h1v1h-1zM742 473h1v1h-1zM743 473h1v1h-1zM744 472h1v1h-1zM745 472h1v1h-1zM746 472h1v1h-1zM747 471h1v1h-1zM748 471h1v1h-1zM749 470h1v1h-1zM750 470h1v1h-1zM751 470h1v1h-1zM752 470h1v1h-1zM753 469h1v1h-1zM754 469h1v1h-1zM755 469h1v1h-1zM756 469h1v1h-1zM757 468h1v1h-1zM758 468h1v1h-1zM759 468h1v1h-1zM760 468h1v1h-1zM761 467h1v1h-1zM762 467h1v1h-1zM763 467h1v1h-1zM764 467h1v1h-1zM765 466h1v1h-1zM766 466h1v1h-1zM767 466h1v1h-1zM768 466h1v1h-1zM769 465h1v1h-1zM770 465h1v1h-1zM771 465h1v1h-1zM772 465h1v1h-1zM773 464h1v1h-1zM774 464h1v1h-1zM775 464h1v1h-1zM776 464h1v1h-1zM777 464h1v1h-1zM778 464h1v1h-1zM779 464h1v1h-1zM780 464h1v1h-1zM781 464h1v1h-1zM782 464h1v1h-1zM783 464h1v1h-1zM784 464h1v1h-1zM785 464h1v1h-1zM786 464h1v1h-1zM787 464h1v1h-1zM788 464h1v1h-1zM789 464h1v1h-1zM790 464h1v1h-1zM791 465h1v1h-1zM792 465h1v1h-1zM793 465h1v1h-1zM794 465h1v1h-1zM795 465h1v1h-1zM796 465h1v1h-1zM797 466h1v1h-1zM798 466h1v1h-1zM799 466h1v1h-1zM800 466h1v1h-1zM801 466h1v1h-1zM802 466h1v1h-1zM803 466h1v1h-1zM804 466h1v1h-1zM805 466h1v1h-1zM806 467h1v1h-1zM807 467h1v1h-1zM808 467h1v1h-1zM809 468h1v1h-1zM810 468h1v1h-1zM811 469h1v1h-1zM812 469h1v1h-1zM813 469h1v1h-1zM814 470h1v1h-1zM815 470h1v1h-1zM816 471h1v1h-1zM817 471h1v1h-1zM818 471h1v1h-1zM819 472h1v1h-1zM820 472h1v1h-1zM821 473h1v1h-1zM822 473h1v1h-1zM823 473h1v1h-1zM824 473h1v1h-1zM825 474h1v1h-1zM826 474h1v1h-1zM827 474h1v1h-1zM828 474h1v1h-1zM829 475h1v1h-1zM830 475h1v1h-1zM831 475h1v1h-1zM832 475h1v1h-1zM833 475h1v1h-1zM834 476h1v1h-1zM835 476h1v1h-1zM836 476h1v1h-1zM837 476h1v1h-1zM838 476h1v1h-1zM839 477h1v1h-1zM840 477h1v1h-1zM841 477h1v1h-1zM842 477h1v1h-1zM843 477h1v1h-1zM844 477h1v1h-1zM845 478h1v1h-1zM846 478h1v1h-1zM847 478h1v1h-1zM848 478h1v1h-1zM849 478h1v1h-1zM850 478h1v1h-1zM851 478h1v1h-1zM852 478h1v1h-1zM853 478h1v1h-1zM854 478h1v1h-1zM855 478h1v1h-1zM856 478h1v1h-1zM857 478h1v1h-1zM858 478h1v1h-1zM859 478h1v1h-1zM860 478h1v1h-1zM861 478h1v1h-1zM862 477h1v1h-1zM863 477h1v1h-1zM864 477h1v1h-1zM865 477h1v1h-1zM866 477h1v1h-1zM867 477h1v1h-1zM868 476h1v1h-1zM869 476h1v1h-1zM870 476h1v1h-1zM871 476h1v1h-1zM872 475h1v1h-1zM873 475h1v1h-1zM874 474h1v1h-1zM875 474h1v1h-1zM876 474h1v1h-1zM877 473h1v1h-1zM878 473h1v1h-1zM879 473h1v1h-1zM880 472h1v1h-1zM881 472h1v1h-1zM882 472h1v1h-1zM883 471h1v1h-1zM884 471h1v1h-1zM885 470h1v1h-1zM886 470h1v1h-1zM887 470h1v1h-1zM888 470h1v1h-1zM889 469h1v1h-1zM890 469h1v1h-1zM891 469h1v1h-1zM892 468h1v1h-1zM893 468h1v1h-1zM894 468h1v1h-1zM895 468h1v1h-1zM896 467h1v1h-1zM897 467h1v1h-1zM898 467h1v1h-1zM899 467h1v1h-1zM900 467h1v1h-1zM901 466h1v1h-1zM902 466h1v1h-1zM903 466h1v1h-1zM904 466h1v1h-1zM905 465h1v1h-1zM906 465h1v1h-1zM907 465h1v1h-1zM908 465h1v1h-1zM909 464h1v1h-1zM910 464h1v1h-1zM911 464h1v1h-1zM912 463h1v1h-1zM913 463h1v1h-1zM914 463h1v1h-1zM915 462h1v1h-1zM916 462h1v1h-1zM917 462h1v1h-1z" fill="#ff0000" shape-rendering="crispEdges"/>
<rect x="4" y="428" width="1" height="82" fill="#000" />
<line x1="6" y1="537.5" x2="1167" y2="537.5" stroke="#c0c0c0" stroke-width="1" stroke-dasharray="3 3" shape-rendering="crispEdges"/>
<line x1="6" y1="571.5" x2="1167" y2="571.5" stroke="#c0c0c0" stroke-width="1" stroke-dasharray="3 3" shape-rendering="crispEdges"/>
<path d="M5 567h1v1h-1zM6 566h1v1h-1zM7 566h1v1h-1zM8 566h1v1h-1zM9 565h1v1h-1zM10 565h1v1h-1zM11 565h1v1h-1zM12 564h1v1h-1zM13 564h1v1h-1zM14 564h1v1h-1zM15 563h1v1h-1zM16 563h1v1h-1zM17 563h1v1h-1zM18 563h1v1h-1zM19 563h1v1h-1zM20 563h1v1h-1zM21 563h1v1h-1zM22 562h1v1h-1zM23 561h1v1h-1zM24 560h1v1h-1zM25 559h1v1h-1zM26 558h1v1h-1zM27 557h1v1h-1zM28 556h1v1h-1zM29 555h1v1h-1zM30 555h1v1h-1zM31 555h1v1h-1zM32 555h1v1h-1zM33 554h1v1h-1zM34 554h1v1h-1zM35 554h1v1h-1zM36 554h1v1h-1zM37 553h1v1h-1zM38 553h1v1h-1zM39 553h1v1h-1zM40 552h1v1h-1zM41 552h1v1h-1zM42 551h1v1h-1zM43 551h1v1h-1zM44 551h1v1h-1zM45 550h1v1h-1zM46 551h1v1h-1zM47 551h1v1h-1zM48 552h1v1h-1zM49 552h1v1h-1zM50 553h1v1h-1zM51 553h1v1h-1zM52 554h1v1h-1zM53 554h1v1h-1zM54 554h1v1h-1zM55 555h1v1h-1zM56 555h1v1h-1zM57 555h1v1h-1zM58 555h1v1h-1zM59 555h1v1h-1zM60 555h1v1h-1zM61 556h1v1h-1zM62 555h1v1h-1zM63 555h1v1h-1zM64 555h1v1h-1zM65 555h1v1h-1zM66 555h1v1h-1zM67 555h1v1h-1zM68 554h1v1h-1zM69 554h1v1h-1zM70 555h1v1h-1zM71 555h1v1h-1zM72 556h1v1h-1zM73 557h1v1h-1zM74 557h1v1h-1zM75 558h1v1h-1zM76 559h1v1h-1zM77 559h1v1h-1zM78 559h1v1h-1zM79 560h1v1h-1zM80 560h1v1h-1zM81 560h1v1h-1zM82 560h1v1h-1zM83 560h1v1h-1zM84 560h1v1h-1zM85 561h1v1h-1zM86 560h1v1h-1zM87 560h1v1h-1zM88 560h1v1h-1zM89 560h1v1h-1zM90 560h1v1h-1zM91 560h1v1h-1zM92 559h1v1h-1zM93 559h1v1h-1zM94 560h1v1h-1zM95 560h1v1h-1zM96 561h1v1h-1zM97 561h1v1h-1zM98 562h1v1h-1zM99 562h1v1h-1zM100 563h1v1h-1zM101 564h1v1h-1zM102 564h1v1h-1zM103 564h1v1h-1zM104 564h1v1h-1zM105 564h1v1h-1zM106 564h1v1h-1zM107 564h1v1h-1zM108 564h1v1h-1zM109 565h1v1h-1zM110 563h1v2h-1zM111 562h1v1h-1zM112 560h1v2h-1zM113 559h1v1h-1zM114 558h1v1h-1zM115 556h1v2h-1zM116 555h1v1h-1zM117 554h1v1h-1zM118 554h1v1h-1zM119 555h1v1h-1zM120 555h1v1h-1zM121 556h1v1h-1zM122 557h1v1h-1zM123 557h1v1h-1zM124 558h1v1h-1zM125 558h1v1h-1zM126 559h1v1h-1zM127 559h1v1h-1zM128 559h1v1h-1zM129 559h1v1h-1zM130 559h1v1h-1zM131 559h1v1h-1zM132 560h1v1h-1zM133 560h1v1h-1zM134 559h1v1h-1zM135 559h1v1h-1zM136 558h1v1h-1zM137 558h1v1h-1zM138 558h1v1h-1zM139 557h1v1h-1zM140 557h1v1h-1zM141 556h1v1h-1zM142 556h1v1h-1zM143 556h1v1h-1zM144 556h1v1h-1zM145 556h1v1h-1zM146 556h1v1h-1zM147 556h1v1h-1zM148 555h1v1h-1zM149 555h1v1h-1zM150 555h1v1h-1zM151 556h1v1h-1zM152 556h1v1h-1zM153 556h1v1h-1zM154 556h1v1h-1zM155 556h1v1h-1zM156 556h1v1h-1zM157 556h1v1h-1zM158 556h1v1h-1zM159 555h1v1h-1zM160 555h1v1h-1zM161 554h1v1h-1zM162 554h1v1h-1zM163 553h1v1h-1zM164 553h1v1h-1zM165 552h1v1h-1zM166 552h1v1h-1zM167 552h1v1h-1zM168 552h1v1h-1zM169 552h1v1h-1zM170 552h1v1h-1zM171 552h1v1h-1zM172 552h1v1h-1zM173 552h1v1h-1zM174 552h1v1h-1zM175 552h1v1h-1zM176 551h1v1h-1zM177 551h1v1h-1zM178 550h1v1h-1zM179 550h1v1h-1zM180 550h1v1h-1zM181 549h1v1h-1zM182 550h1v1h-1zM183 551h1v1h-1zM184 551h1v1h-1zM185 552h1v1h-1zM186 552h1v1h-1zM187 553h1v1h-1zM188 554h1v1h-1zM189 554h1v1h-1zM190 555h1v1h-1zM191 555h1v1h-1zM192 556h1v1h-1zM193 556h1v1h-1zM194 557h1v1h-1zM195 557h1v1h-1zM196 558h1v1h-1zM197 558h1v1h-1zM198 558h1v1h-1zM199 557h1v1h-1zM200 557h1v1h-1zM201 556h1v1h-1zM202 556h1v1h-1zM203 555h1v1h-1zM204 555h1v1h-1zM205 554h1v1h-1zM206 554h1v1h-1zM207 555h1v1h-1zM208 555h1v1h-1zM209 555h1v1h-1zM210 555h1v1h-1zM211 555h1v1h-1zM212 555h1v1h-1zM213 556h1v1h-1zM214 556h1v1h-1zM215 557h1v1h-1zM216 557h1v1h-1zM217 558h1v1h-1zM218 558h1v1h-1zM219 559h1v1h-1zM220 560h1v1h-1zM221 560h1v1h-1zM222 560h1v1h-1zM223 560h1v1h-1zM224 560h1v1h-1zM225 560h1v1h-1zM226 560h1v1h-1zM227 560h1v1h-1zM228 559h1v1h-1zM229 559h1v1h-1zM230 559h1v1h-1zM231 559h1v1h-1zM232 558h1v1h-1zM233 558h1v1h-1zM234 557h1v1h-1zM235 557h1v1h-1zM236 557h1v1h-1zM237 556h1v1h-1zM238 556h1v1h-1zM239 556h1v1h-1zM240 555h1v1h-1zM241 555h1v1h-1zM242 555h1v1h-1zM243 554h1v1h-1zM244 554h1v1h-1zM245 553h1v1h-1zM246 553h1v1h-1zM247 552h1v1h-1zM248 552h1v1h-1zM249 551h1v1h-1zM250 550h1v1h-1zM251 550h1v1h-1zM252 549h1v1h-1zM253 549h1v1h-1zM254 549h1v1h-1zM255 549h1v1h-1zM256 549h1v1h-1zM257 549h1v1h-1zM258 549h1v1h-1zM259 549h1v1h-1zM260 549h1v1h-1zM261 549h1v1h-1zM262 549h1v1h-1zM263 549h1v1h-1zM264 549h1v1h-1zM265 549h1v1h-1zM266 549h1v1h-1zM267 549h1v1h-1zM268 549h1v1h-1zM269 549h1v1h-1zM270 550h1v1h-1zM271 551h1v1h-1zM272 551h1v1h-1zM273 552h1v1h-1zM274 552h1v1h-1zM275 553h1v1h-1zM276 554h1v1h-1zM277 554h1v1h-1zM278 554h1v1h-1zM279 553h1v1h-1zM280 553h1v1h-1zM281 552h1v1h-1zM282 552h1v1h-1zM283 551h1v1h-1zM284 551h1v1h-1zM285 550h1v1h-1zM286 550h1v1h-1zM287 551h1v1h-1zM288 551h1v1h-1zM289 551h1v1h-1zM290 551h1v1h-1zM291 551h1v1h-1zM292 551h1v1h-1zM293 551h1v1h-1zM294 551h1v1h-1zM295 551h1v1h-1zM296 551h1v1h-1zM297 551h1v1h-1zM298 551h1v1h-1zM299 551h1v1h-1zM300 551h1v1h-1zM301 551h1v1h-1zM302 551h1v1h-1zM303 551h1v1h-1zM304 551h1v1h-1zM305 551h1v1h-1zM306 551h1v1h-1zM307 551h1v1h-1zM308 551h1v1h-1zM309 551h1v1h-1zM310 551h1v1h-1zM311 551h1v1h-1zM312 550h1v1h-1zM313 550h1v1h-1zM314 550h1v1h-1zM315 549h1v1h-1zM316 549h1v1h-1zM317 549h1v1h-1zM318 548h1v1h-1zM319 548h1v1h-1zM320 548h1v1h-1zM321 548h1v1h-1zM322 548h1v1h-1zM323 548h1v1h-1zM324 547h1v1h-1zM325 547h1v1h-1zM326 547h1v1h-1zM327 548h1v1h-1zM328 548h1v1h-1zM329 548h1v1h-1zM330 548h1v1h-1zM331 548h1v1h-1zM332 548h1v1h-1zM333 549h1v1h-1zM334 548h1v1h-1zM335 548h1v1h-1zM336 547h1v1h-1zM337 547h1v1h-1zM338 547h1v1h-1zM339 546h1v1h-1zM340 546h1v1h-1zM341 545h1v1h-1zM342 546h1v2h-1zM343 548h1v2h-1zM344 550h1v1h-1zM345 551h1v2h-1zM346 553h1v1h-1zM347 554h1v2h-1zM348 556h1v2h-1zM349 558h1v1h-1zM350 558h1v1h-1zM351 557h1v1h-1zM352 557h1v1h-1zM353 556h1v1h-1zM354 556h1v1h-1zM355 555h1v1h-1zM356 555h1v1h-1zM357 554h1v1h-1zM358 554h1v1h-1zM359 554h1v1h-1zM360 553h1v1h-1zM361 553h1v1h-1zM362 553h1v1h-1zM363 553h1v1h-1zM364 553h1v1h-1zM365 552h1v1h-1zM366 552h1v1h-1zM367 553h1v1h-1zM368 553h1v1h-1zM369 553h1v1h-1zM370 553h1v1h-1zM371 553h1v1h-1zM372 553h1v1h-1zM373 553h1v1h-1zM374 553h1v1h-1zM375 552h1v1h-1zM376 552h1v1h-1zM377 551h1v1h-1zM378 550h1v1h-1zM379 550h1v1h-1zM380 549h1v1h-1zM381 549h1v1h-1zM382 549h1v1h-1zM383 549h1v1h-1zM384 549h1v1h-1zM385 549h1v1h-1zM386 550h1v1h-1zM387 550h1v1h-1zM388 550h1v1h-1zM389 550h1v1h-1zM390 550h1v1h-1zM391 549h1v1h-1zM392 548h1v1h-1zM393 548h1v1h-1zM394 547h1v1h-1zM395 547h1v1h-1zM396 546h1v1h-1zM397 545h1v1h-1zM398 545h1v1h-1zM399 545h1v1h-1zM400 545h1v1h-1zM401 545h1v1h-1zM402 545h1v1h-1zM403 545h1v1h-1zM404 545h1v1h-1zM405 545h1v1h-1zM406 545h1v1h-1zM407 546h1v1h-1zM408 546h1v1h-1zM409 547h1v1h-1zM410 548h1v1h-1zM411 548h1v1h-1zM412 549h1v1h-1zM413 549h1v1h-1zM414 549h1v1h-1zM415 550h1v1h-1zM416 550h1v1h-1zM417 550h1v1h-1zM418 550h1v1h-1zM419 550h1v1h-1zM420 550h1v1h-1zM421 550h1v1h-1zM422 550h1v1h-1zM423 550h1v1h-1zM424 550h1v1h-1zM425 550h1v1h-1zM426 550h1v1h-1zM427 550h1v1h-1zM428 550h1v1h-1zM429 550h1v1h-1zM430 551h1v1h-1zM431 551h1v1h-1zM432 551h1v1h-1zM433 552h1v1h-1zM434 552h1v1h-1zM435 553h1v1h-1zM436 553h1v1h-1zM437 553h1v1h-1zM438 554h1v1h-1zM439 554h1v1h-1zM440 555h1v1h-1zM441 555h1v1h-1zM442 556h1v1h-1zM443 556h1v1h-1zM444 557h1v1h-1zM445 558h1v1h-1zM446 558h1v1h-1zM447 558h1v1h-1zM448 558h1v1h-1zM449 558h1v1h-1zM450 559h1v1h-1zM451 559h1v1h-1zM452 559h1v1h-1zM453 559h1v1h-1zM454 559h1v1h-1zM455 560h1v1h-1zM456 560h1v1h-1zM457 560h1v1h-1zM458 560h1v1h-1zM459 560h1v1h-1zM460 560h1v1h-1zM461 560h1v1h-1zM462 560h1v1h-1zM463 560h1v1h-1zM464 560h1v1h-1zM465 560h1v1h-1zM466 560h1v1h-1zM467 560h1v1h-1zM468 560h1v1h-1zM469 560h1v1h-1zM470 560h1v1h-1zM471 560h1v1h-1zM472 560h1v1h-1zM473 560h1v1h-1zM474 560h1v1h-1zM475 560h1v1h-1zM476 560h1v1h-1zM477 560h1v1h-1zM478 560h1v1h-1zM479 560h1v1h-1zM480 561h1v1h-1zM481 561h1v1h-1zM482 561h1v1h-1zM483 561h1v1h-1zM484 561h1v1h-1zM485 561h1v1h-1zM486 561h1v1h-1zM487 561h1v1h-1zM488 560h1v1h-1zM489 560h1v1h-1zM490 559h1v1h-1zM491 559h1v1h-1zM492 559h1v1h-1zM493 558h1v1h-1zM494 559h1v1h-1zM495 559h1v1h-1zM496 559h1v1h-1zM497 559h1v1h-1zM498 560h1v1h-1zM499 560h1v1h-1zM500 560h1v1h-1zM501 560h1v1h-1zM502 560h1v1h-1zM503 559h1v1h-1zM504 558h1v1h-1zM505 558h1v1h-1zM506 557h1v1h-1zM507 557h1v1h-1zM508 556h1v1h-1zM509 556h1v1h-1zM510 555h1v1h-1zM511 555h1v1h-1zM512 554h1v1h-1zM513 554h1v1h-1zM514 554h1v1h-1zM515 553h1v1h-1zM516 553h1v1h-1zM517 552h1v1h-1zM518 552h1v1h-1zM519 552h1v1h-1zM520 552h1v1h-1zM521 551h1v1h-1zM522 551h1v1h-1zM523 551h1v1h-1zM524 551h1v1h-1zM525 550h1v1h-1zM526 551h1v1h-1zM527 551h1v1h-1zM528 551h1v1h-1zM529 552h1v1h-1zM530 552h1v1h-1zM531 553h1v1h-1zM532 553h1v1h-1zM533 553h1v1h-1zM534 553h1v1h-1zM535 553h1v1h-1zM536 553h1v1h-1zM537 553h1v1h-1zM538 553h1v1h-1zM539 553h1v1h-1zM540 552h1v1h-1zM541 552h1v1h-1zM542 552h1v1h-1zM543 551h1v1h-1zM544 550h1v1h-1zM545 549h1v1h-1zM546 548h1v1h-1zM547 548h1v1h-1zM548 547h1v1h-1zM549 546h1v1h-1zM550 546h1v1h-1zM551 546h1v1h-1zM552 546h1v1h-1zM553 547h1v1h-1zM554 547h1v1h-1zM555 547h1v1h-1zM556 547h1v1h-1zM557 547h1v1h-1zM558 547h1v1h-1zM559 548h1v1h-1zM560 548h1v1h-1zM561 548h1v1h-1zM562 548h1v1h-1zM563 548h1v1h-1zM564 548h1v1h-1zM565 549h1v1h-1zM566 549h1v1h-1zM567 550h1v1h-1zM568 550h1v1h-1zM569 551h1v1h-1zM570 552h1v1h-1zM571 552h1v1h-1zM572 553h1v1h-1zM573 553h1v1h-1zM574 554h1v1h-1zM575 554h1v1h-1zM576 555h1v1h-1zM577 555h1v1h-1zM578 555h1v1h-1zM579 556h1v1h-1zM580 556h1v1h-1zM581 556h1v1h-1zM582 557h1v1h-1zM583 557h1v1h-1zM584 557h1v1h-1zM585 558h1v1h-1zM586 558h1v1h-1zM587 559h1v1h-1zM588 559h1v1h-1zM589 559h1v1h-1zM590 560h1v1h-1zM591 560h1v1h-1zM592 561h1v1h-1zM593 561h1v1h-1zM594 561h1v1h-1zM595 562h1v1h-1zM596 562h1v1h-1zM597 563h1v1h-1zM598 563h1v1h-1zM599 563h1v1h-1zM600 563h1v1h-1zM601 563h1v1h-1zM602 563h1v1h-1zM603 564h1v1h-1zM604 564h1v1h-1zM605 564h1v1h-1zM606 564h1v1h-1zM607 564h1v1h-1zM608 565h1v1h-1zM609 565h1v1h-1zM610 565h1v1h-1zM611 565h1v1h-1zM612 565h1v1h-1zM613 566h1v1h-1zM614 566h1v1h-1zM615 566h1v1h-1zM616 567h1v1h-1zM617 567h1v1h-1zM618 568h1v1h-1zM619 568h1v1h-1zM620 569h1v1h-1zM621 569h1v1h-1zM622 569h1v1h-1zM623 568h1v1h-1zM624 568h1v1h-1zM625 567h1v1h-1zM626 567h1v1h-1zM627 566h1v1h-1zM628 566h1v1h-1zM629 565h1v1h-1zM630 565h1v1h-1zM631 566h1v1h-1zM632 566h1v1h-1zM633 566h1v1h-1zM634 566h1v1h-1zM635 567h1v1h-1zM636 567h1v1h-1zM637 567h1v1h-1zM638 567h1v1h-1zM639 567h1v1h-1zM640 567h1v1h-1zM641 567h1v1h-1zM642 567h1v1h-1zM643 567h1v1h-1zM644 567h1v1h-1zM645 567h1v1h-1zM646 567h1v1h-1zM647 568h1v1h-1zM648 568h1v1h-1zM649 568h1v1h-1zM650 568h1v1h-1zM651 569h1v1h-1zM652 569h1v1h-1zM653 569h1v1h-1zM654 568h1v1h-1zM655 568h1v1h-1zM656 567h1v1h-1zM657 566h1v1h-1zM658 566h1v1h-1zM659 565h1v1h-1zM660 564h1v1h-1zM661 564h1v1h-1zM662 563h1v1h-1zM663 563h1v1h-1zM664 563h1v1h-1zM665 562h1v1h-1zM666 562h1v1h-1zM667 562h1v1h-1zM668 562h1v1h-1zM669 561h1v1h-1zM670 561h1v1h-1zM671 560h1v1h-1zM672 560h1v1h-1zM673 559h1v1h-1zM674 559h1v1h-1zM675 558h1v1h-1zM676 558h1v1h-1zM677 558h1v1h-1zM678 557h1v1h-1zM679 557h1v1h-1zM680 556h1v1h-1zM681 556h1v1h-1zM682 555h1v1h-1zM683 555h1v1h-1zM684 555h1v1h-1zM685 554h1v1h-1zM686 554h1v1h-1zM687 554h1v1h-1zM688 555h1v1h-1zM689 555h1v1h-1zM690 555h1v1h-1zM691 555h1v1h-1zM692 555h1v1h-1zM693 555h1v1h-1zM694 555h1v1h-1zM695 556h1v1h-1zM696 556h1v1h-1zM697 556h1v1h-1zM698 556h1v1h-1zM699 556h1v1h-1zM700 556h1v1h-1zM701 556h1v1h-1zM702 556h1v1h-1zM703 556h1v1h-1zM704 556h1v1h-1zM705 556h1v1h-1zM706 556h1v1h-1zM707 556h1v1h-1zM708 556h1v1h-1zM709 556h1v1h-1zM710 556h1v1h-1zM711 556h1v1h-1zM712 556h1v1h-1zM713 556h1v1h-1zM714 556h1v1h-1zM715 556h1v1h-1zM716 555h1v1h-1zM717 555h1v1h-1zM718 555h1v1h-1zM719 554h1v1h-1zM720 554h1v1h-1zM721 554h1v1h-1zM722 553h1v1h-1zM723 553h1v1h-1zM724 553h1v1h-1zM725 552h1v1h-1zM726 552h1v1h-1zM727 552h1v1h-1zM728 551h1v1h-1zM729 551h1v1h-1zM730 550h1v1h-1zM731 550h1v1h-1zM732 550h1v1h-1zM733 549h1v1h-1zM734 549h1v1h-1zM735 549h1v1h-1zM736 549h1v1h-1zM737 549h1v1h-1zM738 549h1v1h-1zM739 549h1v1h-1zM740 549h1v1h-1zM741 549h1v1h-1zM742 549h1v1h-1zM743 549h1v1h-1zM744 549h1v1h-1zM745 549h1v1h-1zM746 549h1v1h-1zM747 549h1v1h-1zM748 549h1v1h-1zM749 549h1v1h-1zM750 549h1v1h-1zM751 550h1v1h-1zM752 551h1v1h-1zM753 551h1v1h-1zM754 552h1v1h-1zM755 553h1v1h-1zM756 553h1v1h-1zM757 554h1v1h-1zM758 555h1v1h-1zM759 556h1v1h-1zM760 556h1v1h-1zM761 557h1v1h-1zM762 558h1v1h-1zM763 559h1v1h-1zM764 559h1v1h-1zM765 560h1v1h-1zM766 560h1v1h-1zM767 561h1v1h-1zM768 561h1v1h-1zM769 561h1v1h-1zM770 562h1v1h-1zM771 562h1v1h-1zM772 562h1v1h-1zM773 563h1v1h-1zM774 562h1v1h-1zM775 562h1v1h-1zM776 562h1v1h-1zM777 561h1v1h-1zM778 561h1v1h-1zM779 561h1v1h-1zM780 560h1v1h-1zM781 560h1v1h-1zM782 561h1v1h-1zM783 562h1v2h-1zM784 564h1v1h-1zM785 565h1v1h-1zM786 566h1v2h-1zM787 568h1v1h-1zM788 569h1v1h-1zM789 570h1v1h-1zM790 570h1v1h-1zM791 570h1v1h-1zM792 570h1v1h-1zM793 570h1v1h-1zM794 570h1v1h-1zM795 570h1v1h-1zM796 569h1v1h-1zM797 569h1v1h-1zM798 569h1v1h-1zM799 569h1v1h-1zM800 569h1v1h-1zM801 569h1v1h-1zM802 569h1v1h-1zM803 569h1v1h-1zM804 568h1v1h-1zM805 568h1v1h-1zM806 568h1v1h-1zM807 569h1v1h-1zM808 569h1v1h-1zM809 569h1v1h-1zM810 569h1v1h-1zM811 569h1v1h-1zM812 569h1v1h-1zM813 570h1v1h-1zM814 568h1v2h-1zM815 567h1v1h-1zM816 566h1v1h-1zM817 565h1v1h-1zM818 564h1v1h-1zM819 563h1v1h-1zM820 561h1v2h-1zM821 560h1v1h-1zM822 560h1v1h-1zM823 559h1v1h-1zM824 558h1v1h-1zM825 558h1v1h-1zM826 557h1v1h-1zM827 556h1v1h-1zM828 556h1v1h-1zM829 555h1v1h-1zM830 555h1v1h-1zM831 556h1v1h-1zM832 556h1v1h-1zM833 556h1v1h-1zM834 556h1v1h-1zM835 556h1v1h-1zM836 556h1v1h-1zM837 556h1v1h-1zM838 556h1v1h-1zM839 555h1v1h-1zM840 555h1v1h-1zM841 554h1v1h-1zM842 554h1v1h-1zM843 553h1v1h-1zM844 553h1v1h-1zM845 552h1v1h-1zM846 552h1v1h-1zM847 553h1v1h-1zM848 553h1v1h-1zM849 553h1v1h-1zM850 553h1v1h-1zM851 553h1v1h-1zM852 553h1v1h-1zM853 553h1v1h-1zM854 553h1v1h-1zM855 553h1v1h-1zM856 553h1v1h-1zM857 552h1v1h-1zM858 552h1v1h-1zM859 552h1v1h-1zM860 552h1v1h-1zM861 551h1v1h-1zM862 551h1v1h-1zM863 551h1v1h-1zM864 551h1v1h-1zM865 551h1v1h-1zM866 551h1v1h-1zM867 551h1v1h-1zM868 550h1v1h-1zM869 550h1v1h-1zM870 550h1v1h-1zM871 550h1v1h-1zM872 550h1v1h-1zM873 550h1v1h-1zM874 550h1v1h-1zM875 550h1v1h-1zM876 549h1v1h-1zM877 549h1v1h-1zM878 549h1v1h-1zM879 549h1v1h-1zM880 549h1v1h-1zM881 548h1v1h-1zM882 548h1v1h-1zM883 548h1v1h-1zM884 548h1v1h-1zM885 547h1v1h-1zM886 548h1v2h-1zM887 550h1v2h-1zM888 552h1v1h-1zM889 553h1v2h-1zM890 555h1v1h-1zM891 556h1v2h-1zM892 558h1v2h-1zM893 560h1v1h-1zM894 560h1v1h-1zM895 560h1v1h-1zM896 560h1v1h-1zM897 559h1v1h-1zM898 559h1v1h-1zM899 559h1v1h-1zM900 559h1v1h-1zM901 558h1v1h-1zM902 558h1v1h-1zM903 557h1v1h-1zM904 557h1v1h-1zM905 556h1v1h-1zM906 556h1v1h-1zM907 555h1v1h-1zM908 555h1v1h-1zM909 554h1v1h-1zM910 554h1v1h-1zM911 555h1v1h-1zM912 555h1v1h-1zM913 555h1v1h-1zM914 555h1v1h-1zM915 555h1v1h-1zM916 555h1v1h-1zM917 556h1v1h-1z" fill="#1e90ff" shape-rendering="crispEdges"/>
<rect x="4" y="511" width="1" height="86" fill="#000" />
<clipPath id="c1"><rect x="1168" y="30" width="44" height="397"/></clipPath><g clip-path="url(#c1)">
<rect x="1168" y="60" width="2" height="1" fill="#000" />
<text x="1172.7" y="64" font-size="9.97" fill="#000" textLength="33.7" lengthAdjust="spacingAndGlyphs" stroke="#000" stroke-width="0.25" >1.15590</text>
<rect x="1168" y="93" width="2" height="1" fill="#000" />
<text x="1172.7" y="97" font-size="9.97" fill="#000" textLength="33.7" lengthAdjust="spacingAndGlyphs" stroke="#000" stroke-width="0.25" >1.15240</text>
<rect x="1168" y="126" width="2" height="1" fill="#000" />
<text x="1172.7" y="130" font-size="9.97" fill="#000" textLength="33.7" lengthAdjust="spacingAndGlyphs" stroke="#000" stroke-width="0.25" >1.14880</text>
<rect x="1168" y="159" width="2" height="1" fill="#000" />
<text x="1172.7" y="163" font-size="9.97" fill="#000" textLength="33.7" lengthAdjust="spacingAndGlyphs" stroke="#000" stroke-width="0.25" >1.14520</text>
<rect x="1168" y="192" width="2" height="1" fill="#000" />
<text x="1172.7" y="196" font-size="9.97" fill="#000" textLength="33.7" lengthAdjust="spacingAndGlyphs" stroke="#000" stroke-width="0.25" >1.14170</text>
<rect x="1168" y="225" width="2" height="1" fill="#000" />
<text x="1172.7" y="229" font-size="9.97" fill="#000" textLength="33.7" lengthAdjust="spacingAndGlyphs" stroke="#000" stroke-width="0.25" >1.13810</text>
<rect x="1168" y="258" width="2" height="1" fill="#000" />
<text x="1172.7" y="262" font-size="9.97" fill="#000" textLength="33.7" lengthAdjust="spacingAndGlyphs" stroke="#000" stroke-width="0.25" >1.13460</text>
<rect x="1168" y="291" width="2" height="1" fill="#000" />
<text x="1172.7" y="295" font-size="9.97" fill="#000" textLength="33.7" lengthAdjust="spacingAndGlyphs" stroke="#000" stroke-width="0.25" >1.13100</text>
<rect x="1168" y="324" width="2" height="1" fill="#000" />
<text x="1172.7" y="328" font-size="9.97" fill="#000" textLength="33.7" lengthAdjust="spacingAndGlyphs" stroke="#000" stroke-width="0.25" >1.12740</text>
<rect x="1168" y="357" width="2" height="1" fill="#000" />
<text x="1172.7" y="361" font-size="9.97" fill="#000" textLength="33.7" lengthAdjust="spacingAndGlyphs" stroke="#000" stroke-width="0.25" >1.12390</text>
<rect x="1168" y="390" width="2" height="1" fill="#000" />
<text x="1172.7" y="394" font-size="9.97" fill="#000" textLength="33.7" lengthAdjust="spacingAndGlyphs" stroke="#000" stroke-width="0.25" >1.12030</text>
<rect x="1168" y="423" width="2" height="1" fill="#000" />
<text x="1172.7" y="427" font-size="9.97" fill="#000" textLength="33.7" lengthAdjust="spacingAndGlyphs" stroke="#000" stroke-width="0.25" >1.11680</text>
</g>
<rect x="1169" y="283" width="41" height="11" fill="#000" />
<text x="1172.7" y="292" font-size="9.97" fill="#fff" textLength="33.7" lengthAdjust="spacingAndGlyphs" stroke="#fff" stroke-width="0.25" >1.13136</text>
<rect x="1168" y="458" width="1" height="1" fill="#000" />
<rect x="1168" y="430" width="1" height="1" fill="#000" />
<rect x="1168" y="508" width="1" height="1" fill="#000" />
<text x="1170.6" y="438.4" font-size="9.97" fill="#000" textLength="38.8" lengthAdjust="spacingAndGlyphs" stroke="#000" stroke-width="0.25" >0.003177</text>
<text x="1170.6" y="462" font-size="9.97" fill="#000" textLength="18.8" lengthAdjust="spacingAndGlyphs" stroke="#000" stroke-width="0.25" >0.00</text>
<text x="1170.8" y="506" font-size="9.97" fill="#000" textLength="41.2" lengthAdjust="spacingAndGlyphs" stroke="#000" stroke-width="0.25" >-0.005667</text>
<rect x="1168" y="513" width="1" height="1" fill="#000" />
<rect x="1168" y="595" width="1" height="1" fill="#000" />
<text x="1170.8" y="522" font-size="9.97" fill="#000" textLength="15.6" lengthAdjust="spacingAndGlyphs" stroke="#000" stroke-width="0.25" >100</text>
<text x="1169.7" y="541" font-size="9.97" fill="#000" textLength="10.8" lengthAdjust="spacingAndGlyphs" stroke="#000" stroke-width="0.25" >70</text>
<text x="1169.7" y="575" font-size="9.97" fill="#000" textLength="10.8" lengthAdjust="spacingAndGlyphs" stroke="#000" stroke-width="0.25" >30</text>
<text x="1170.6" y="593" font-size="9.97" fill="#000" textLength="5.6" lengthAdjust="spacingAndGlyphs" stroke="#000" stroke-width="0.25" >0</text>
<rect x="5" y="597" width="1" height="3" fill="#000" />
<text x="3.6999999999999997" y="609" font-size="9.97" fill="#000" textLength="54.3" lengthAdjust="spacingAndGlyphs" stroke="#000" stroke-width="0.25" >13 Nov 2018</text>
<rect x="69" y="597" width="1" height="3" fill="#000" />
<text x="68.39999999999999" y="609" font-size="9.97" fill="#000" textLength="53.8" lengthAdjust="spacingAndGlyphs" stroke="#000" stroke-width="0.25" >22 Nov 2018</text>
<rect x="133" y="597" width="1" height="3" fill="#000" />
<text x="132.1" y="609" font-size="9.97" fill="#000" textLength="46.6" lengthAdjust="spacingAndGlyphs" stroke="#000" stroke-width="0.25" >1 Dec 2018</text>
<rect x="197" y="597" width="1" height="3" fill="#000" />
<text x="196.4" y="609" font-size="9.97" fill="#000" textLength="51.5" lengthAdjust="spacingAndGlyphs" stroke="#000" stroke-width="0.25" >11 Dec 2018</text>
<rect x="261" y="597" width="1" height="3" fill="#000" />
<text x="260.0" y="609" font-size="9.97" fill="#000" textLength="52.3" lengthAdjust="spacingAndGlyphs" stroke="#000" stroke-width="0.25" >20 Dec 2018</text>
<rect x="325" y="597" width="1" height="3" fill="#000" />
<text x="323.90000000000003" y="609" font-size="9.97" fill="#000" textLength="52.8" lengthAdjust="spacingAndGlyphs" stroke="#000" stroke-width="0.25" >29 Dec 2018</text>
<rect x="389" y="597" width="1" height="3" fill="#000" />
<text x="387.70000000000005" y="609" font-size="9.97" fill="#000" textLength="45.8" lengthAdjust="spacingAndGlyphs" stroke="#000" stroke-width="0.25" >8 Jan 2019</text>
<rect x="453" y="597" width="1" height="3" fill="#000" />
<text x="451.6" y="609" font-size="9.97" fill="#000" textLength="50.1" lengthAdjust="spacingAndGlyphs" stroke="#000" stroke-width="0.25" >17 Jan 2019</text>
<rect x="517" y="597" width="1" height="3" fill="#000" />
<text x="515.7" y="609" font-size="9.97" fill="#000" textLength="50.3" lengthAdjust="spacingAndGlyphs" stroke="#000" stroke-width="0.25" >26 Jan 2019</text>
<rect x="581" y="597" width="1" height="3" fill="#000" />
<text x="580.0" y="609" font-size="9.97" fill="#000" textLength="47.1" lengthAdjust="spacingAndGlyphs" stroke="#000" stroke-width="0.25" >5 Feb 2019</text>
<rect x="645" y="597" width="1" height="3" fill="#000" />
<text x="644.4" y="609" font-size="9.97" fill="#000" textLength="51.5" lengthAdjust="spacingAndGlyphs" stroke="#000" stroke-width="0.25" >14 Feb 2019</text>
<rect x="709" y="597" width="1" height="3" fill="#000" />
<text x="708.0" y="609" font-size="9.97" fill="#000" textLength="51.8" lengthAdjust="spacingAndGlyphs" stroke="#000" stroke-width="0.25" >23 Feb 2019</text>
<rect x="773" y="597" width="1" height="3" fill="#000" />
<text x="771.9" y="609" font-size="9.97" fill="#000" textLength="47.1" lengthAdjust="spacingAndGlyphs" stroke="#000" stroke-width="0.25" >5 Mar 2019</text>
<rect x="837" y="597" width="1" height="3" fill="#000" />
<text x="835.7" y="609" font-size="9.97" fill="#000" textLength="52.1" lengthAdjust="spacingAndGlyphs" stroke="#000" stroke-width="0.25" >14 Mar 2019</text>
<rect x="901" y="597" width="1" height="3" fill="#000" />
<text x="900.1" y="609" font-size="9.97" fill="#000" textLength="52.0" lengthAdjust="spacingAndGlyphs" stroke="#000" stroke-width="0.25" >23 Mar 2019</text>
<path d="M8 42 L11.5 38 L15 42 Z" fill="#000"/>
<text x="20.5" y="43" font-size="9.97" fill="#000" textLength="62.5" lengthAdjust="spacingAndGlyphs" stroke="#000" stroke-width="0.25" >EURUSD,Daily</text>
<text x="90.5" y="43" font-size="9.97" fill="#000" textLength="141.0" lengthAdjust="spacingAndGlyphs" stroke="#000" stroke-width="0.25" >1.13209 1.13253 1.13094 1.13136</text>
<text x="9.4" y="441" font-size="9.97" fill="#000" textLength="153.5" lengthAdjust="spacingAndGlyphs" stroke="#000" stroke-width="0.25" >MACD(12,26,9) -0.000335 -0.000516</text>
<text x="9.4" y="524" font-size="9.97" fill="#000" textLength="67.3" lengthAdjust="spacingAndGlyphs" stroke="#000" stroke-width="0.25" >RSI(14) 49.0516</text>
<defs>
<linearGradient id="gt" x1="0" y1="0" x2="0" y2="1"><stop offset="0" stop-color="#f85050"/><stop offset="1" stop-color="#da3030"/></linearGradient>
<linearGradient id="gb" x1="0" y1="0" x2="0" y2="1"><stop offset="0" stop-color="#d82c2c"/><stop offset="0.6" stop-color="#c41616"/><stop offset="1" stop-color="#ac0000"/></linearGradient>
<linearGradient id="gg" x1="0" y1="0" x2="0" y2="1"><stop offset="0" stop-color="#ececec"/><stop offset="0.5" stop-color="#e0e0e0"/><stop offset="0.5" stop-color="#d2d2d2"/><stop offset="1" stop-color="#d8d8d8"/></linearGradient>
</defs>
<rect x="8" y="51" width="52" height="24" fill="url(#gt)" />
<rect x="8" y="51" width="52" height="1" fill="#c81818" />
<rect x="8" y="51" width="1" height="24" fill="#c81818" />
<rect x="59" y="51" width="1" height="24" fill="#c81818" />
<rect x="8" y="75" width="109" height="40" fill="url(#gb)" />
<rect x="8" y="75" width="1" height="40" fill="#b00808" />
<rect x="116" y="75" width="1" height="40" fill="#b00808" />
<rect x="12" y="74" width="44" height="1" fill="#f9a8a8" />
<rect x="175" y="51" width="52" height="24" fill="url(#gt)" />
<rect x="175" y="51" width="52" height="1" fill="#c81818" />
<rect x="175" y="51" width="1" height="24" fill="#c81818" />
<rect x="226" y="51" width="1" height="24" fill="#c81818" />
<rect x="119" y="75" width="108" height="40" fill="url(#gb)" />
<rect x="119" y="75" width="1" height="40" fill="#b00808" />
<rect x="226" y="75" width="1" height="40" fill="#b00808" />
<rect x="179" y="75" width="44" height="1" fill="#900000" />
<rect x="62" y="51" width="111" height="22" fill="#ffffff" />
<rect x="62" y="51" width="111" height="1" fill="#a8a8b0" />
<rect x="62" y="72" width="111" height="1" fill="#a8a8b0" />
<rect x="62" y="51" width="1" height="22" fill="#a8a8b0" />
<rect x="172" y="51" width="1" height="22" fill="#a8a8b0" />
<rect x="64" y="53" width="19" height="18" fill="url(#gg)" />
<rect x="83" y="52" width="1" height="20" fill="#b8b8c0" />
<rect x="152" y="53" width="19" height="18" fill="url(#gg)" />
<rect x="151" y="52" width="1" height="20" fill="#b8b8c0" />
<path d="M70.5 60.5 L75.5 60.5 L73 63.5 Z" fill="#5a6cc8" opacity="0.9"/>
<path d="M158.8 63 L164.2 63 L161.5 60 Z" fill="#5a6cc8" opacity="0.85"/>
<text x="20.2" y="66.4" font-size="11.00" fill="#fff" textLength="26.3" lengthAdjust="spacingAndGlyphs" >SELL</text>
<text x="187.8" y="66.4" font-size="11.00" fill="#fff" textLength="24.0" lengthAdjust="spacingAndGlyphs" >BUY</text>
<text x="123.9" y="65.8" font-size="12.10" fill="#000" textLength="24.0" lengthAdjust="spacingAndGlyphs" stroke="#000" stroke-width="0.1" >0.05</text>
<text x="27.9" y="105.8" font-size="12.32" fill="#fff" textLength="24.0" lengthAdjust="spacingAndGlyphs" font-weight="bold" >1.13</text>
<text x="56.2" y="106" font-size="34.65" fill="#fff" textLength="33.5" lengthAdjust="spacingAndGlyphs" >13</text>
<text x="95.9" y="89.6" font-size="11.00" fill="#fff" textLength="6.4" lengthAdjust="spacingAndGlyphs" font-weight="bold" >6</text>
<text x="137.7" y="105.8" font-size="12.32" fill="#fff" textLength="24.0" lengthAdjust="spacingAndGlyphs" font-weight="bold" >1.13</text>
<text x="166.0" y="106" font-size="34.65" fill="#fff" textLength="33.5" lengthAdjust="spacingAndGlyphs" >15</text>
<text x="205.7" y="89.6" font-size="11.00" fill="#fff" textLength="6.4" lengthAdjust="spacingAndGlyphs" font-weight="bold" >5</text>
<rect x="0" y="618" width="1212" height="23" fill="#f0f0f0" />
<rect x="0" y="618" width="1212" height="1" fill="#ffffff" />
<rect x="0" y="619" width="1212" height="1" fill="#000" />
<rect x="0" y="617" width="1" height="1" fill="#b8b8b8" />
<rect x="1" y="617" width="1" height="1" fill="#c8c8c8" />
<rect x="0" y="620" width="1" height="18" fill="#a0a0a0" />
<rect x="1" y="620" width="1" height="18" fill="#888888" />
<rect x="2" y="620" width="1" height="18" fill="#ffffff" />
<rect x="5" y="620" width="1" height="17" fill="#ffffff" />
<rect x="7" y="618" width="102" height="19" fill="#ffffff" />
<rect x="6" y="619" width="1" height="19" fill="#000" />
<rect x="109" y="619" width="1" height="19" fill="#000" />
<rect x="6" y="637" width="104" height="1" fill="#000" />
<rect x="7" y="638" width="104" height="1" fill="#c8c8c8" />
<rect x="110" y="620" width="1" height="18" fill="#c8c8c8" />
<text x="18.1" y="633.6" font-size="12.00" fill="#000" textLength="80.6" lengthAdjust="spacingAndGlyphs" stroke="#000" stroke-width="0.1" >EURUSD,Daily</text>
<text x="121.1" y="633.6" font-size="12.00" fill="#707070" textLength="70.6" lengthAdjust="spacingAndGlyphs" >AUDUSD,H4</text>
<text x="212.70000000000002" y="633.6" font-size="12.00" fill="#707070" textLength="99.0" lengthAdjust="spacingAndGlyphs" >USDCHF,Monthly</text>
<text x="332.7" y="633.6" font-size="12.00" fill="#707070" textLength="82.2" lengthAdjust="spacingAndGlyphs" >USDCAD,Daily</text>
<text x="435.90000000000003" y="633.6" font-size="12.00" fill="#707070" textLength="83.6" lengthAdjust="spacingAndGlyphs" >USDCNH,Daily</text>
<text x="540.9" y="633.6" font-size="12.00" fill="#707070" textLength="73.2" lengthAdjust="spacingAndGlyphs" >USDJPY,M30</text>
<text x="636.3" y="633.6" font-size="12.00" fill="#707070" textLength="69.8" lengthAdjust="spacingAndGlyphs" >XAUUSD,H4</text>
<text x="729.5" y="633.6" font-size="12.00" fill="#707070" textLength="69.0" lengthAdjust="spacingAndGlyphs" >GBPUSD,H4</text>
<text x="821.8" y="633.6" font-size="12.00" fill="#707070" textLength="63.9" lengthAdjust="spacingAndGlyphs" >SP500,M15</text>
<text x="909.6999999999999" y="633.6" font-size="12.00" fill="#707070" textLength="80.6" lengthAdjust="spacingAndGlyphs" >GBPUSD,Daily</text>
<text x="1011.8" y="633.6" font-size="12.00" fill="#707070" textLength="47.4" lengthAdjust="spacingAndGlyphs" >DJ30,H4</text>
<text x="1079.8" y="633.6" font-size="12.00" fill="#707070" textLength="71.4" lengthAdjust="spacingAndGlyphs" >TECH100,H1</text>
<rect x="202" y="622" width="1" height="14" fill="#707070" />
<rect x="322" y="622" width="1" height="14" fill="#707070" />
<rect x="426" y="622" width="1" height="14" fill="#707070" />
<rect x="530" y="622" width="1" height="14" fill="#707070" />
<rect x="626" y="622" width="1" height="14" fill="#707070" />
<rect x="718" y="622" width="1" height="14" fill="#707070" />
<rect x="810" y="622" width="1" height="14" fill="#707070" />
<rect x="898" y="622" width="1" height="14" fill="#707070" />
<rect x="1002" y="622" width="1" height="14" fill="#707070" />
<rect x="1070" y="622" width="1" height="14" fill="#707070" />
<rect x="1162" y="622" width="1" height="14" fill="#707070" />
<clipPath id="c2"><rect x="1170" y="620" width="6.6" height="20"/></clipPath>
<text x="1173.4" y="633.6" font-size="12.00" fill="#707070" textLength="25.3" lengthAdjust="spacingAndGlyphs" clip-path="url(#c2)">USD</text>
<path d="M1186.5 625 L1186.5 632 L1182.5 628.5 Z" fill="#909090"/>
<path d="M1201.7 625 L1201.7 632 L1205.5 628.5 Z" fill="#000"/>
</svg>
</body></html>
